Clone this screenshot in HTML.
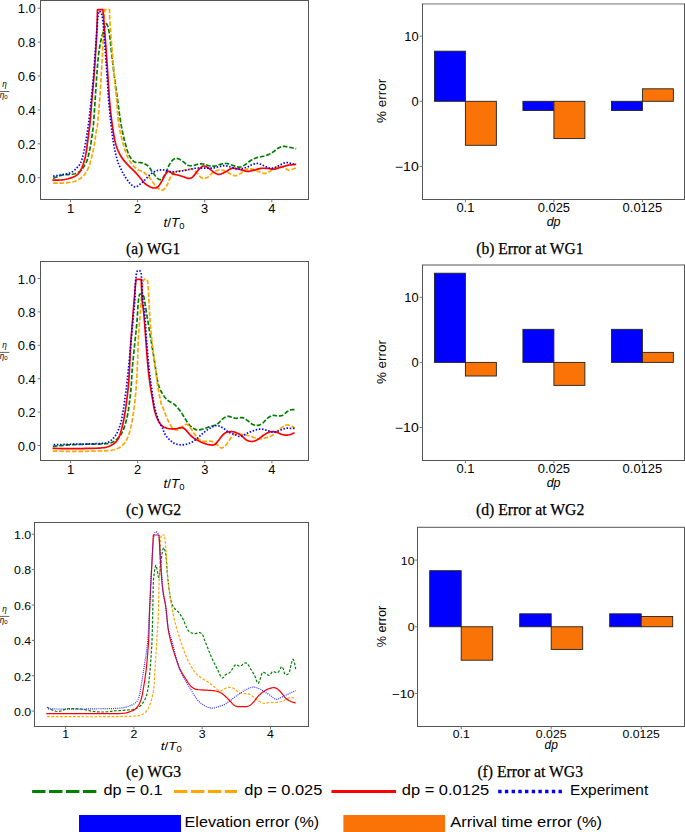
<!DOCTYPE html>
<html><head><meta charset="utf-8"><style>
html,body{margin:0;padding:0;background:#fff;}
svg{display:block;}
</style></head><body>
<svg width="685" height="832" viewBox="0 0 685 832">
<rect width="685" height="832" fill="#fff"/>
<clipPath id="a"><rect x="40.5" y="0.5" width="268.0" height="199.0"/></clipPath>
<g clip-path="url(#a)" fill="none" stroke-linejoin="round">
<path d="M53.10,178.40 L54.02,178.03 L55.27,177.50 L56.77,176.88 L58.43,176.24 L60.16,175.65 L61.90,175.20 L63.75,174.90 L65.80,174.69 L67.94,174.54 L70.03,174.40 L71.96,174.23 L73.60,174.00 L74.92,173.72 L76.02,173.45 L76.96,173.14 L77.79,172.79 L78.58,172.35 L79.40,171.80 L80.22,171.14 L81.00,170.40 L81.74,169.57 L82.44,168.67 L83.13,167.71 L83.80,166.70 L84.45,165.68 L85.08,164.64 L85.69,163.55 L86.27,162.34 L86.84,160.98 L87.40,159.40 L87.94,157.57 L88.47,155.52 L88.99,153.31 L89.48,150.99 L89.95,148.64 L90.40,146.30 L90.82,143.92 L91.23,141.44 L91.61,138.91 L91.97,136.41 L92.30,133.98 L92.60,131.70 L92.85,129.79 L93.04,128.26 L93.21,126.81 L93.38,125.15 L93.57,122.98 L93.80,120.00 L94.08,116.06 L94.40,111.36 L94.74,106.14 L95.09,100.68 L95.45,95.21 L95.80,90.00 L96.15,84.84 L96.51,79.50 L96.88,74.16 L97.25,69.00 L97.63,64.22 L98.00,60.00 L98.38,56.38 L98.76,53.22 L99.15,50.44 L99.54,47.94 L99.92,45.66 L100.30,43.50 L100.67,41.55 L101.04,39.89 L101.40,38.44 L101.76,37.11 L102.13,35.83 L102.50,34.50 L102.88,33.11 L103.27,31.72 L103.67,30.38 L104.06,29.11 L104.44,27.97 L104.80,27.00 L105.13,26.10 L105.44,25.22 L105.73,24.47 L106.03,23.94 L106.35,23.75 L106.70,24.00 L107.10,24.68 L107.53,25.72 L107.98,27.09 L108.44,28.77 L108.88,30.75 L109.30,33.00 L109.68,35.62 L110.04,38.64 L110.39,41.96 L110.74,45.47 L111.11,49.05 L111.50,52.60 L111.93,56.23 L112.38,60.06 L112.84,63.96 L113.31,67.83 L113.77,71.55 L114.20,75.00 L114.62,78.25 L115.04,81.40 L115.45,84.40 L115.84,87.20 L116.19,89.75 L116.50,92.00 L116.74,93.79 L116.93,95.13 L117.08,96.22 L117.23,97.26 L117.39,98.45 L117.60,100.00 L117.86,101.95 L118.15,104.16 L118.46,106.52 L118.77,108.93 L119.09,111.29 L119.40,113.50 L119.70,115.59 L120.00,117.63 L120.30,119.63 L120.60,121.57 L120.90,123.43 L121.20,125.20 L121.50,126.86 L121.79,128.40 L122.08,129.87 L122.37,131.30 L122.68,132.73 L123.00,134.20 L123.34,135.70 L123.69,137.20 L124.04,138.69 L124.41,140.19 L124.80,141.69 L125.20,143.20 L125.62,144.74 L126.04,146.33 L126.49,147.92 L126.94,149.47 L127.42,150.94 L127.90,152.30 L128.40,153.54 L128.90,154.71 L129.42,155.79 L129.96,156.80 L130.51,157.74 L131.10,158.60 L131.70,159.39 L132.32,160.12 L132.96,160.77 L133.63,161.34 L134.34,161.82 L135.10,162.20 L135.92,162.44 L136.80,162.52 L137.71,162.51 L138.65,162.48 L139.58,162.49 L140.50,162.60 L141.42,162.80 L142.37,163.04 L143.31,163.33 L144.23,163.64 L145.10,164.00 L145.90,164.40 L146.62,164.84 L147.27,165.34 L147.88,165.87 L148.44,166.43 L148.98,167.01 L149.50,167.60 L149.96,168.18 L150.34,168.75 L150.70,169.34 L151.08,169.97 L151.53,170.69 L152.10,171.50 L152.83,172.51 L153.69,173.70 L154.61,174.96 L155.56,176.19 L156.47,177.28 L157.30,178.10 L158.04,178.70 L158.73,179.17 L159.38,179.49 L160.02,179.64 L160.65,179.62 L161.30,179.40 L161.95,178.96 L162.60,178.30 L163.25,177.46 L163.90,176.47 L164.55,175.37 L165.20,174.20 L165.86,172.85 L166.53,171.29 L167.20,169.61 L167.87,167.93 L168.54,166.35 L169.20,165.00 L169.86,163.84 L170.51,162.80 L171.16,161.86 L171.80,161.03 L172.45,160.31 L173.10,159.70 L173.73,159.21 L174.35,158.83 L174.96,158.56 L175.60,158.40 L176.27,158.34 L177.00,158.40 L177.80,158.59 L178.66,158.92 L179.56,159.36 L180.48,159.87 L181.40,160.43 L182.30,161.00 L183.18,161.65 L184.07,162.42 L184.96,163.24 L185.84,164.02 L186.72,164.70 L187.60,165.20 L188.46,165.51 L189.29,165.69 L190.12,165.77 L190.97,165.76 L191.85,165.70 L192.80,165.60 L193.84,165.41 L194.95,165.11 L196.10,164.75 L197.25,164.39 L198.36,164.09 L199.40,163.90 L200.35,163.83 L201.23,163.83 L202.08,163.89 L202.91,163.99 L203.74,164.13 L204.60,164.30 L205.48,164.53 L206.36,164.83 L207.25,165.18 L208.14,165.51 L209.02,165.80 L209.90,166.00 L210.77,166.12 L211.64,166.19 L212.50,166.21 L213.36,166.19 L214.23,166.12 L215.10,166.00 L215.97,165.80 L216.83,165.53 L217.69,165.20 L218.56,164.86 L219.46,164.55 L220.40,164.30 L221.38,164.08 L222.39,163.86 L223.43,163.67 L224.48,163.53 L225.54,163.46 L226.60,163.50 L227.66,163.68 L228.74,163.97 L229.82,164.35 L230.91,164.76 L232.01,165.16 L233.10,165.50 L234.21,165.83 L235.34,166.21 L236.47,166.57 L237.59,166.87 L238.67,167.06 L239.70,167.10 L240.64,166.97 L241.52,166.71 L242.36,166.35 L243.19,165.90 L244.06,165.37 L245.00,164.80 L246.01,164.12 L247.07,163.31 L248.17,162.42 L249.28,161.54 L250.40,160.71 L251.50,160.00 L252.58,159.42 L253.64,158.91 L254.71,158.46 L255.80,158.05 L256.92,157.67 L258.10,157.30 L259.36,156.98 L260.69,156.72 L262.05,156.49 L263.41,156.25 L264.74,155.96 L266.00,155.60 L267.19,155.15 L268.35,154.64 L269.47,154.09 L270.55,153.50 L271.60,152.90 L272.60,152.30 L273.55,151.66 L274.43,150.97 L275.28,150.27 L276.11,149.58 L276.94,148.95 L277.80,148.40 L278.66,147.92 L279.51,147.49 L280.37,147.10 L281.24,146.78 L282.15,146.54 L283.10,146.40 L284.11,146.38 L285.17,146.47 L286.27,146.64 L287.38,146.86 L288.50,147.09 L289.60,147.30 L290.77,147.52 L292.04,147.78 L293.31,148.06 L294.49,148.32 L295.48,148.54 L296.20,148.70" stroke="#008000" stroke-width="1.7" stroke-dasharray="4.6 1.8"/>
<path d="M53.10,183.10 L54.04,183.11 L55.33,183.14 L56.86,183.17 L58.54,183.18 L60.25,183.16 L61.90,183.10 L63.57,182.99 L65.36,182.85 L67.18,182.68 L68.97,182.48 L70.63,182.25 L72.10,182.00 L73.33,181.73 L74.39,181.46 L75.33,181.16 L76.20,180.81 L77.07,180.39 L78.00,179.90 L78.99,179.33 L79.99,178.71 L80.99,178.03 L81.97,177.27 L82.92,176.43 L83.80,175.50 L84.63,174.47 L85.43,173.34 L86.18,172.12 L86.90,170.85 L87.57,169.54 L88.20,168.20 L88.77,166.87 L89.28,165.54 L89.74,164.16 L90.19,162.71 L90.63,161.13 L91.10,159.40 L91.59,157.48 L92.09,155.41 L92.59,153.21 L93.09,150.94 L93.56,148.62 L94.00,146.30 L94.41,143.90 L94.81,141.36 L95.18,138.79 L95.54,136.26 L95.88,133.87 L96.20,131.70 L96.49,130.06 L96.74,128.93 L96.98,127.94 L97.22,126.70 L97.49,124.85 L97.80,122.00 L98.17,118.02 L98.58,113.19 L99.01,107.73 L99.46,101.89 L99.89,95.90 L100.30,90.00 L100.69,83.99 L101.08,77.66 L101.46,71.18 L101.83,64.73 L102.18,58.47 L102.50,52.60 L102.80,46.96 L103.08,41.39 L103.34,36.02 L103.58,30.99 L103.80,26.44 L104.00,22.50 L104.18,19.21 L104.35,16.45 L104.49,14.17 L104.62,12.31 L104.72,10.80 L104.80,9.60 L105.37,9.60 L106.19,9.60 L107.15,9.60 L108.11,9.60 L108.93,9.60 L109.50,9.60 L109.53,10.80 L109.56,12.31 L109.61,14.17 L109.68,16.45 L109.81,19.21 L110.00,22.50 L110.28,26.55 L110.63,31.36 L111.04,36.64 L111.47,42.13 L111.90,47.54 L112.30,52.60 L112.69,57.41 L113.07,62.21 L113.46,66.93 L113.85,71.51 L114.23,75.89 L114.60,80.00 L114.98,83.84 L115.36,87.46 L115.74,90.87 L116.10,94.09 L116.42,97.13 L116.70,100.00 L116.91,102.65 L117.07,105.05 L117.20,107.27 L117.31,109.37 L117.44,111.43 L117.60,113.50 L117.79,115.59 L117.99,117.63 L118.19,119.63 L118.41,121.57 L118.65,123.43 L118.90,125.20 L119.17,126.86 L119.44,128.40 L119.74,129.87 L120.04,131.30 L120.37,132.73 L120.70,134.20 L121.05,135.70 L121.41,137.20 L121.79,138.69 L122.19,140.19 L122.59,141.69 L123.00,143.20 L123.42,144.73 L123.86,146.30 L124.30,147.86 L124.76,149.40 L125.22,150.89 L125.70,152.30 L126.18,153.62 L126.65,154.87 L127.14,156.07 L127.65,157.24 L128.20,158.37 L128.80,159.50 L129.47,160.63 L130.20,161.77 L130.96,162.88 L131.75,163.93 L132.53,164.92 L133.30,165.80 L134.04,166.57 L134.77,167.23 L135.49,167.83 L136.23,168.37 L137.00,168.88 L137.80,169.40 L138.67,169.90 L139.60,170.36 L140.56,170.79 L141.50,171.22 L142.39,171.65 L143.20,172.10 L143.90,172.56 L144.53,173.01 L145.11,173.47 L145.66,173.94 L146.22,174.45 L146.80,175.00 L147.41,175.58 L148.01,176.19 L148.61,176.82 L149.23,177.50 L149.85,178.22 L150.50,179.00 L151.17,179.86 L151.85,180.81 L152.54,181.81 L153.25,182.82 L153.97,183.79 L154.70,184.70 L155.45,185.58 L156.23,186.46 L157.02,187.32 L157.80,188.10 L158.57,188.78 L159.30,189.30 L159.99,189.70 L160.65,190.01 L161.29,190.21 L161.92,190.28 L162.55,190.18 L163.20,189.90 L163.87,189.39 L164.55,188.67 L165.24,187.79 L165.91,186.80 L166.57,185.76 L167.20,184.70 L167.78,183.58 L168.33,182.34 L168.86,181.05 L169.38,179.76 L169.92,178.52 L170.50,177.40 L171.10,176.37 L171.70,175.37 L172.32,174.43 L172.97,173.57 L173.66,172.82 L174.40,172.20 L175.19,171.75 L176.02,171.46 L176.89,171.28 L177.79,171.16 L178.73,171.05 L179.70,170.90 L180.71,170.73 L181.77,170.57 L182.87,170.42 L183.98,170.28 L185.10,170.14 L186.20,170.00 L187.32,169.81 L188.49,169.56 L189.66,169.32 L190.79,169.14 L191.85,169.08 L192.80,169.20 L193.60,169.53 L194.28,170.01 L194.89,170.62 L195.47,171.31 L196.09,172.05 L196.80,172.80 L197.60,173.65 L198.44,174.66 L199.32,175.72 L200.21,176.71 L201.11,177.54 L202.00,178.10 L202.88,178.38 L203.76,178.46 L204.65,178.37 L205.54,178.14 L206.42,177.81 L207.30,177.40 L208.17,176.84 L209.04,176.08 L209.90,175.22 L210.76,174.33 L211.63,173.50 L212.50,172.80 L213.39,172.22 L214.30,171.70 L215.21,171.22 L216.11,170.81 L216.98,170.47 L217.80,170.20 L218.56,170.00 L219.27,169.88 L219.94,169.82 L220.61,169.83 L221.29,169.89 L222.00,170.00 L222.71,170.16 L223.38,170.37 L224.07,170.64 L224.81,170.97 L225.64,171.36 L226.60,171.80 L227.76,172.39 L229.09,173.15 L230.51,173.97 L231.94,174.74 L233.30,175.35 L234.50,175.70 L235.51,175.77 L236.38,175.66 L237.18,175.38 L237.96,174.99 L238.78,174.52 L239.70,174.00 L240.72,173.35 L241.80,172.52 L242.92,171.61 L244.06,170.71 L245.19,169.95 L246.30,169.40 L247.40,169.08 L248.52,168.92 L249.63,168.87 L250.73,168.93 L251.79,169.04 L252.80,169.20 L253.74,169.43 L254.61,169.76 L255.44,170.16 L256.28,170.59 L257.16,171.02 L258.10,171.40 L259.14,171.79 L260.26,172.23 L261.41,172.66 L262.56,173.04 L263.67,173.30 L264.70,173.40 L265.65,173.32 L266.53,173.09 L267.38,172.75 L268.21,172.33 L269.04,171.87 L269.90,171.40 L270.78,170.87 L271.66,170.23 L272.55,169.56 L273.44,168.89 L274.32,168.29 L275.20,167.80 L276.07,167.41 L276.94,167.06 L277.80,166.78 L278.66,166.58 L279.53,166.48 L280.40,166.50 L281.29,166.69 L282.21,167.04 L283.13,167.49 L284.03,167.97 L284.90,168.43 L285.70,168.80 L286.40,169.12 L287.00,169.44 L287.57,169.74 L288.15,169.97 L288.81,170.10 L289.60,170.10 L290.62,169.90 L291.84,169.51 L293.14,169.03 L294.39,168.53 L295.45,168.09 L296.20,167.80" stroke="#ffa500" stroke-width="1.7" stroke-dasharray="4.6 1.8"/>
<path d="M52.40,180.10 L53.46,180.09 L54.94,180.10 L56.69,180.09 L58.54,180.07 L60.33,180.01 L61.90,179.90 L63.26,179.73 L64.55,179.52 L65.78,179.28 L66.96,179.00 L68.10,178.71 L69.20,178.40 L70.28,178.08 L71.32,177.74 L72.33,177.39 L73.28,177.01 L74.17,176.62 L75.00,176.20 L75.75,175.78 L76.42,175.37 L77.03,174.93 L77.60,174.46 L78.15,173.92 L78.70,173.30 L79.24,172.59 L79.75,171.79 L80.24,170.94 L80.71,170.04 L81.17,169.12 L81.60,168.20 L82.01,167.30 L82.39,166.40 L82.74,165.47 L83.09,164.50 L83.44,163.45 L83.80,162.30 L84.18,161.03 L84.56,159.66 L84.95,158.22 L85.33,156.71 L85.68,155.17 L86.00,153.60 L86.28,152.00 L86.52,150.37 L86.74,148.69 L86.96,146.97 L87.17,145.20 L87.40,143.40 L87.65,141.53 L87.90,139.57 L88.16,137.58 L88.41,135.58 L88.66,133.61 L88.90,131.70 L89.12,130.02 L89.32,128.59 L89.52,127.18 L89.72,125.59 L89.95,123.60 L90.20,121.00 L90.49,117.65 L90.81,113.69 L91.15,109.33 L91.50,104.79 L91.85,100.27 L92.20,96.00 L92.54,92.06 L92.89,88.31 L93.24,84.59 L93.59,80.74 L93.94,76.60 L94.30,72.00 L94.67,66.78 L95.07,61.03 L95.47,54.99 L95.85,48.90 L96.20,42.99 L96.50,37.50 L96.75,32.15 L96.96,26.68 L97.14,21.39 L97.29,16.59 L97.41,12.56 L97.50,9.60 L98.14,9.60 L99.07,9.60 L100.15,9.60 L101.23,9.60 L102.16,9.60 L102.80,9.60 L102.92,10.80 L103.07,12.31 L103.26,14.17 L103.47,16.45 L103.72,19.21 L104.00,22.50 L104.32,26.49 L104.69,31.17 L105.09,36.33 L105.50,41.76 L105.91,47.25 L106.30,52.60 L106.69,58.07 L107.09,63.87 L107.48,69.74 L107.86,75.40 L108.20,80.58 L108.50,85.00 L108.73,88.52 L108.91,91.34 L109.06,93.68 L109.19,95.76 L109.33,97.79 L109.50,100.00 L109.69,102.34 L109.89,104.61 L110.10,106.84 L110.32,109.06 L110.55,111.27 L110.80,113.50 L111.07,115.75 L111.34,118.00 L111.64,120.25 L111.94,122.50 L112.27,124.75 L112.60,127.00 L112.95,129.29 L113.30,131.63 L113.67,133.97 L114.06,136.26 L114.46,138.45 L114.90,140.50 L115.35,142.39 L115.82,144.16 L116.31,145.84 L116.83,147.44 L117.39,148.98 L118.00,150.50 L118.65,151.97 L119.33,153.37 L120.05,154.72 L120.81,156.04 L121.63,157.32 L122.50,158.60 L123.46,159.87 L124.50,161.13 L125.59,162.37 L126.70,163.57 L127.78,164.71 L128.80,165.80 L129.77,166.82 L130.73,167.79 L131.67,168.71 L132.57,169.59 L133.41,170.41 L134.20,171.20 L134.90,171.92 L135.53,172.56 L136.11,173.16 L136.66,173.74 L137.22,174.34 L137.80,175.00 L138.41,175.71 L139.01,176.45 L139.62,177.21 L140.24,177.97 L140.86,178.74 L141.50,179.50 L142.12,180.26 L142.71,181.03 L143.32,181.81 L143.96,182.57 L144.68,183.30 L145.50,184.00 L146.47,184.70 L147.56,185.41 L148.72,186.10 L149.91,186.72 L151.05,187.24 L152.10,187.60 L153.06,187.83 L153.98,187.97 L154.86,188.01 L155.71,187.91 L156.52,187.68 L157.30,187.30 L158.04,186.73 L158.73,185.97 L159.38,185.08 L160.02,184.09 L160.65,183.05 L161.30,182.00 L161.96,180.87 L162.63,179.60 L163.29,178.29 L163.95,177.00 L164.59,175.81 L165.20,174.80 L165.77,173.93 L166.30,173.13 L166.81,172.44 L167.33,171.88 L167.88,171.49 L168.50,171.30 L169.18,171.40 L169.91,171.76 L170.67,172.30 L171.47,172.90 L172.28,173.47 L173.10,173.90 L173.94,174.19 L174.82,174.42 L175.71,174.61 L176.61,174.79 L177.51,174.98 L178.40,175.20 L179.27,175.45 L180.14,175.71 L181.00,175.98 L181.86,176.26 L182.73,176.53 L183.60,176.80 L184.49,177.10 L185.41,177.45 L186.33,177.80 L187.23,178.10 L188.10,178.32 L188.90,178.40 L189.61,178.38 L190.25,178.29 L190.85,178.11 L191.45,177.82 L192.09,177.39 L192.80,176.80 L193.60,175.96 L194.47,174.88 L195.37,173.66 L196.29,172.41 L197.21,171.22 L198.10,170.20 L198.97,169.29 L199.84,168.39 L200.70,167.55 L201.56,166.84 L202.43,166.30 L203.30,166.00 L204.18,165.98 L205.06,166.19 L205.95,166.59 L206.84,167.10 L207.72,167.66 L208.60,168.20 L209.47,168.78 L210.34,169.47 L211.20,170.20 L212.06,170.93 L212.93,171.62 L213.80,172.20 L214.67,172.72 L215.53,173.24 L216.39,173.70 L217.26,174.07 L218.16,174.32 L219.10,174.40 L220.08,174.28 L221.09,173.99 L222.12,173.56 L223.18,173.06 L224.24,172.52 L225.30,172.00 L226.38,171.42 L227.49,170.74 L228.61,170.02 L229.71,169.35 L230.78,168.78 L231.80,168.40 L232.75,168.22 L233.66,168.20 L234.53,168.29 L235.39,168.45 L236.24,168.63 L237.10,168.80 L237.97,168.96 L238.84,169.17 L239.70,169.39 L240.56,169.63 L241.43,169.87 L242.30,170.10 L243.16,170.35 L244.01,170.63 L244.86,170.91 L245.73,171.16 L246.64,171.33 L247.60,171.40 L248.63,171.34 L249.71,171.17 L250.82,170.94 L251.96,170.66 L253.09,170.37 L254.20,170.10 L255.29,169.82 L256.37,169.50 L257.45,169.17 L258.53,168.86 L259.61,168.59 L260.70,168.40 L261.79,168.29 L262.89,168.24 L263.99,168.24 L265.10,168.28 L266.20,168.33 L267.30,168.40 L268.40,168.52 L269.50,168.70 L270.61,168.91 L271.71,169.10 L272.81,169.21 L273.90,169.20 L274.97,169.06 L276.02,168.81 L277.07,168.49 L278.13,168.13 L279.24,167.75 L280.40,167.40 L281.64,167.04 L282.93,166.64 L284.26,166.24 L285.61,165.84 L286.97,165.49 L288.30,165.20 L289.71,164.98 L291.23,164.80 L292.74,164.66 L294.15,164.56 L295.34,164.47 L296.20,164.40" stroke="#ff0000" stroke-width="1.7"/>
<path d="M53.10,176.20 L54.06,176.04 L55.38,175.83 L56.95,175.58 L58.64,175.30 L60.33,175.00 L61.90,174.70 L63.40,174.41 L64.94,174.13 L66.49,173.83 L67.99,173.49 L69.41,173.09 L70.70,172.60 L71.86,172.02 L72.91,171.36 L73.88,170.64 L74.78,169.86 L75.65,169.05 L76.50,168.20 L77.33,167.35 L78.13,166.50 L78.88,165.61 L79.60,164.64 L80.27,163.55 L80.90,162.30 L81.48,160.87 L82.00,159.27 L82.49,157.56 L82.94,155.77 L83.37,153.94 L83.80,152.10 L84.21,150.27 L84.59,148.42 L84.94,146.53 L85.29,144.57 L85.64,142.54 L86.00,140.40 L86.38,138.07 L86.77,135.53 L87.17,132.92 L87.55,130.34 L87.90,127.93 L88.20,125.80 L88.42,124.28 L88.56,123.33 L88.67,122.55 L88.80,121.51 L88.99,119.80 L89.30,117.00 L89.75,112.97 L90.31,108.01 L90.93,102.39 L91.58,96.34 L92.22,90.13 L92.80,84.00 L93.34,77.73 L93.87,71.06 L94.38,64.22 L94.88,57.44 L95.35,50.96 L95.80,45.00 L96.22,39.37 L96.62,33.86 L96.99,28.64 L97.35,23.89 L97.68,19.78 L98.00,16.50 L98.27,14.15 L98.50,12.60 L98.70,11.70 L98.91,11.29 L99.17,11.21 L99.50,11.30 L99.92,11.49 L100.41,11.90 L100.95,12.64 L101.50,13.82 L102.02,15.57 L102.50,18.00 L102.92,21.19 L103.30,25.05 L103.66,29.48 L104.02,34.36 L104.40,39.57 L104.80,45.00 L105.26,51.07 L105.76,57.96 L106.28,65.19 L106.78,72.26 L107.23,78.69 L107.60,84.00 L107.87,88.03 L108.06,91.13 L108.19,93.59 L108.31,95.70 L108.44,97.74 L108.60,100.00 L108.80,102.39 L109.01,104.69 L109.22,106.91 L109.45,109.09 L109.67,111.28 L109.90,113.50 L110.12,115.75 L110.34,118.00 L110.57,120.25 L110.80,122.50 L111.04,124.75 L111.30,127.00 L111.57,129.27 L111.86,131.56 L112.15,133.86 L112.46,136.13 L112.77,138.35 L113.10,140.50 L113.44,142.59 L113.79,144.63 L114.14,146.62 L114.51,148.57 L114.90,150.46 L115.30,152.30 L115.72,154.10 L116.16,155.87 L116.62,157.59 L117.08,159.24 L117.54,160.78 L118.00,162.20 L118.45,163.47 L118.90,164.60 L119.35,165.63 L119.80,166.60 L120.25,167.54 L120.70,168.50 L121.14,169.45 L121.57,170.36 L121.99,171.24 L122.43,172.12 L122.90,173.00 L123.40,173.90 L123.95,174.83 L124.53,175.79 L125.13,176.74 L125.75,177.69 L126.38,178.62 L127.00,179.50 L127.61,180.36 L128.23,181.20 L128.84,182.02 L129.47,182.81 L130.12,183.54 L130.80,184.20 L131.50,184.84 L132.23,185.49 L132.98,186.08 L133.74,186.57 L134.51,186.89 L135.30,187.00 L136.10,186.85 L136.92,186.49 L137.76,185.96 L138.60,185.33 L139.45,184.66 L140.30,184.00 L141.15,183.34 L142.01,182.62 L142.88,181.86 L143.75,181.06 L144.63,180.24 L145.50,179.40 L146.36,178.51 L147.21,177.56 L148.07,176.57 L148.94,175.61 L149.85,174.71 L150.80,173.90 L151.81,173.18 L152.87,172.50 L153.97,171.89 L155.08,171.34 L156.20,170.87 L157.30,170.50 L158.41,170.23 L159.54,170.04 L160.68,169.94 L161.79,169.91 L162.87,169.93 L163.90,170.00 L164.86,170.15 L165.77,170.40 L166.64,170.70 L167.49,171.01 L168.34,171.30 L169.20,171.50 L170.04,171.63 L170.84,171.73 L171.64,171.80 L172.47,171.83 L173.38,171.83 L174.40,171.80 L175.56,171.73 L176.83,171.62 L178.18,171.48 L179.57,171.30 L180.95,171.11 L182.30,170.90 L183.62,170.66 L184.93,170.37 L186.25,170.07 L187.57,169.76 L188.88,169.46 L190.20,169.20 L191.52,168.95 L192.83,168.71 L194.15,168.48 L195.47,168.28 L196.78,168.11 L198.10,168.00 L199.42,167.96 L200.74,167.98 L202.06,168.04 L203.37,168.12 L204.69,168.18 L206.00,168.20 L207.32,168.19 L208.65,168.19 L209.98,168.16 L211.29,168.11 L212.57,168.03 L213.80,167.90 L214.99,167.70 L216.15,167.43 L217.28,167.12 L218.37,166.81 L219.41,166.52 L220.40,166.30 L221.30,166.12 L222.10,165.94 L222.86,165.79 L223.61,165.69 L224.41,165.66 L225.30,165.70 L226.29,165.85 L227.34,166.09 L228.44,166.40 L229.57,166.74 L230.69,167.08 L231.80,167.40 L232.88,167.74 L233.94,168.13 L235.01,168.52 L236.10,168.86 L237.22,169.11 L238.40,169.20 L239.66,169.12 L240.99,168.91 L242.36,168.60 L243.72,168.22 L245.05,167.81 L246.30,167.40 L247.48,166.95 L248.61,166.41 L249.71,165.84 L250.77,165.29 L251.80,164.79 L252.80,164.40 L253.75,164.09 L254.66,163.84 L255.53,163.64 L256.38,163.51 L257.23,163.46 L258.10,163.50 L258.97,163.66 L259.82,163.93 L260.68,164.28 L261.54,164.68 L262.45,165.10 L263.40,165.50 L264.43,165.94 L265.52,166.44 L266.65,166.97 L267.78,167.46 L268.87,167.85 L269.90,168.10 L270.85,168.20 L271.76,168.18 L272.63,168.07 L273.49,167.90 L274.34,167.66 L275.20,167.40 L276.07,167.07 L276.94,166.66 L277.80,166.19 L278.66,165.71 L279.53,165.23 L280.40,164.80 L281.27,164.37 L282.14,163.92 L283.01,163.48 L283.89,163.09 L284.78,162.78 L285.70,162.60 L286.67,162.57 L287.70,162.66 L288.74,162.83 L289.76,163.06 L290.73,163.29 L291.60,163.50 L292.41,163.71 L293.19,163.95 L293.92,164.21 L294.56,164.45 L295.10,164.65 L295.50,164.80" stroke="#0000ff" stroke-width="1.7" stroke-dasharray="1.5 1.7"/>
</g>
<rect x="40.50" y="0.50" width="268.00" height="199.00" fill="none" stroke="#545454" stroke-width="1"/>
<line x1="37.70" y1="177.70" x2="40.50" y2="177.70" stroke="#777777" stroke-width="1"/>
<text x="35.80" y="182.80" font-family="'Liberation Sans', sans-serif" font-size="12" font-style="normal" text-anchor="end" fill="#000" textLength="17.97" lengthAdjust="spacingAndGlyphs">0.0</text>
<line x1="37.70" y1="143.80" x2="40.50" y2="143.80" stroke="#777777" stroke-width="1"/>
<text x="35.80" y="148.90" font-family="'Liberation Sans', sans-serif" font-size="12" font-style="normal" text-anchor="end" fill="#000" textLength="17.97" lengthAdjust="spacingAndGlyphs">0.2</text>
<line x1="37.70" y1="109.90" x2="40.50" y2="109.90" stroke="#777777" stroke-width="1"/>
<text x="35.80" y="115.00" font-family="'Liberation Sans', sans-serif" font-size="12" font-style="normal" text-anchor="end" fill="#000" textLength="17.97" lengthAdjust="spacingAndGlyphs">0.4</text>
<line x1="37.70" y1="76.00" x2="40.50" y2="76.00" stroke="#777777" stroke-width="1"/>
<text x="35.80" y="81.10" font-family="'Liberation Sans', sans-serif" font-size="12" font-style="normal" text-anchor="end" fill="#000" textLength="17.97" lengthAdjust="spacingAndGlyphs">0.6</text>
<line x1="37.70" y1="42.10" x2="40.50" y2="42.10" stroke="#777777" stroke-width="1"/>
<text x="35.80" y="47.20" font-family="'Liberation Sans', sans-serif" font-size="12" font-style="normal" text-anchor="end" fill="#000" textLength="17.97" lengthAdjust="spacingAndGlyphs">0.8</text>
<line x1="37.70" y1="8.20" x2="40.50" y2="8.20" stroke="#777777" stroke-width="1"/>
<text x="35.80" y="13.30" font-family="'Liberation Sans', sans-serif" font-size="12" font-style="normal" text-anchor="end" fill="#000" textLength="17.97" lengthAdjust="spacingAndGlyphs">1.0</text>
<line x1="70.50" y1="199.50" x2="70.50" y2="202.30" stroke="#777777" stroke-width="1"/>
<text x="70.50" y="212.80" font-family="'Liberation Sans', sans-serif" font-size="12" font-style="normal" text-anchor="middle" fill="#000" textLength="7.19" lengthAdjust="spacingAndGlyphs">1</text>
<line x1="137.60" y1="199.50" x2="137.60" y2="202.30" stroke="#777777" stroke-width="1"/>
<text x="137.60" y="212.80" font-family="'Liberation Sans', sans-serif" font-size="12" font-style="normal" text-anchor="middle" fill="#000" textLength="7.19" lengthAdjust="spacingAndGlyphs">2</text>
<line x1="204.70" y1="199.50" x2="204.70" y2="202.30" stroke="#777777" stroke-width="1"/>
<text x="204.70" y="212.80" font-family="'Liberation Sans', sans-serif" font-size="12" font-style="normal" text-anchor="middle" fill="#000" textLength="7.19" lengthAdjust="spacingAndGlyphs">3</text>
<line x1="271.80" y1="199.50" x2="271.80" y2="202.30" stroke="#777777" stroke-width="1"/>
<text x="271.80" y="212.80" font-family="'Liberation Sans', sans-serif" font-size="12" font-style="normal" text-anchor="middle" fill="#000" textLength="7.19" lengthAdjust="spacingAndGlyphs">4</text>
<text x="163.40" y="227.00" font-family="'Liberation Sans', sans-serif" font-size="12.5" textLength="21.0" lengthAdjust="spacingAndGlyphs"><tspan font-style="italic">t</tspan>/<tspan font-style="italic">T</tspan><tspan font-size="8.75" dy="1.88">0</tspan></text>
<text x="4.60" y="87.20" font-family="'Liberation Sans', sans-serif" font-size="8.2" font-style="italic" text-anchor="middle">η</text>
<line x1="-2.00" y1="91.50" x2="9.30" y2="91.50" stroke="#222" stroke-width="0.7"/>
<text x="3.60" y="98.10" font-family="'Liberation Sans', sans-serif" font-size="8.2" font-style="italic" text-anchor="middle">η<tspan font-size="6" font-style="normal" dy="1">0</tspan></text>
<text x="126.10" y="253.70" font-family="'Liberation Serif', serif" font-size="16" font-style="normal" text-anchor="start" fill="#000" textLength="54.10" lengthAdjust="spacingAndGlyphs" stroke="#000" stroke-width="0.25">(a) WG1</text>
<clipPath id="c"><rect x="40.5" y="261.5" width="268.0" height="199.0"/></clipPath>
<g clip-path="url(#c)" fill="none" stroke-linejoin="round">
<path d="M52.80,446.30 L54.94,446.11 L57.92,445.84 L61.44,445.53 L65.19,445.21 L68.85,444.92 L72.10,444.70 L74.97,444.55 L77.71,444.44 L80.36,444.37 L82.96,444.31 L85.56,444.26 L88.20,444.20 L90.96,444.15 L93.83,444.13 L96.70,444.12 L99.46,444.09 L101.99,444.02 L104.20,443.90 L106.03,443.75 L107.55,443.59 L108.85,443.39 L110.02,443.13 L111.14,442.77 L112.30,442.30 L113.48,441.71 L114.62,441.03 L115.71,440.25 L116.75,439.39 L117.75,438.43 L118.70,437.40 L119.60,436.32 L120.45,435.20 L121.25,433.99 L122.02,432.66 L122.76,431.14 L123.50,429.40 L124.23,427.39 L124.95,425.14 L125.65,422.71 L126.31,420.16 L126.94,417.57 L127.50,415.00 L128.00,412.39 L128.46,409.68 L128.86,406.92 L129.23,404.17 L129.58,401.48 L129.90,398.90 L130.20,396.48 L130.46,394.17 L130.69,391.92 L130.91,389.68 L131.11,387.39 L131.30,385.00 L131.46,382.59 L131.59,380.21 L131.69,377.79 L131.81,375.24 L131.97,372.47 L132.20,369.40 L132.50,365.95 L132.86,362.18 L133.26,358.19 L133.67,354.10 L134.09,350.00 L134.50,346.00 L134.91,342.05 L135.33,338.06 L135.76,334.07 L136.17,330.11 L136.56,326.24 L136.90,322.50 L137.19,318.75 L137.45,314.94 L137.68,311.22 L137.89,307.72 L138.10,304.60 L138.30,302.00 L138.50,299.98 L138.68,298.44 L138.85,297.27 L139.02,296.37 L139.20,295.65 L139.40,295.00 L139.61,294.48 L139.83,294.20 L140.06,294.08 L140.30,294.08 L140.55,294.14 L140.80,294.20 L141.07,294.29 L141.35,294.45 L141.64,294.67 L141.94,294.94 L142.22,295.22 L142.50,295.50 L142.75,295.65 L142.99,295.67 L143.21,295.70 L143.45,295.91 L143.71,296.46 L144.00,297.50 L144.33,299.10 L144.68,301.13 L145.05,303.51 L145.44,306.11 L145.86,308.84 L146.30,311.60 L146.76,314.39 L147.24,317.31 L147.75,320.36 L148.28,323.54 L148.83,326.85 L149.40,330.30 L150.02,334.02 L150.69,338.05 L151.39,342.21 L152.07,346.33 L152.72,350.25 L153.30,353.80 L153.80,356.94 L154.23,359.80 L154.63,362.46 L155.01,365.00 L155.39,367.48 L155.80,370.00 L156.21,372.58 L156.61,375.16 L157.01,377.69 L157.43,380.13 L157.89,382.42 L158.40,384.50 L158.96,386.36 L159.55,388.03 L160.18,389.54 L160.85,390.95 L161.55,392.29 L162.30,393.60 L163.09,394.88 L163.93,396.09 L164.81,397.24 L165.72,398.31 L166.65,399.30 L167.60,400.20 L168.58,400.97 L169.61,401.59 L170.66,402.13 L171.70,402.66 L172.73,403.22 L173.70,403.90 L174.62,404.66 L175.50,405.45 L176.35,406.29 L177.19,407.18 L178.04,408.15 L178.90,409.20 L179.78,410.37 L180.66,411.64 L181.55,412.99 L182.44,414.37 L183.32,415.75 L184.20,417.10 L185.06,418.45 L185.89,419.86 L186.72,421.26 L187.57,422.61 L188.45,423.87 L189.40,425.00 L190.42,426.02 L191.50,426.96 L192.61,427.82 L193.75,428.56 L194.88,429.16 L196.00,429.60 L197.10,429.84 L198.20,429.91 L199.31,429.83 L200.41,429.66 L201.51,429.43 L202.60,429.20 L203.67,428.93 L204.72,428.59 L205.77,428.19 L206.83,427.76 L207.94,427.32 L209.10,426.90 L210.37,426.51 L211.73,426.15 L213.12,425.78 L214.51,425.37 L215.82,424.89 L217.00,424.30 L218.03,423.55 L218.96,422.67 L219.82,421.71 L220.64,420.74 L221.45,419.85 L222.30,419.10 L223.18,418.46 L224.07,417.88 L224.95,417.37 L225.82,416.94 L226.68,416.61 L227.50,416.40 L228.29,416.34 L229.06,416.43 L229.81,416.62 L230.55,416.86 L231.28,417.10 L232.00,417.30 L232.69,417.48 L233.35,417.69 L233.99,417.90 L234.66,418.09 L235.39,418.23 L236.20,418.30 L237.13,418.24 L238.17,418.06 L239.26,417.84 L240.36,417.64 L241.42,417.53 L242.40,417.60 L243.29,417.85 L244.13,418.24 L244.93,418.72 L245.71,419.26 L246.49,419.83 L247.30,420.40 L248.13,421.01 L248.96,421.69 L249.79,422.40 L250.63,423.09 L251.47,423.71 L252.30,424.20 L253.13,424.59 L253.97,424.91 L254.81,425.16 L255.64,425.33 L256.47,425.41 L257.30,425.40 L258.12,425.30 L258.94,425.11 L259.75,424.83 L260.56,424.47 L261.38,424.03 L262.20,423.50 L263.03,422.84 L263.86,422.02 L264.69,421.13 L265.53,420.21 L266.37,419.35 L267.20,418.60 L268.03,417.94 L268.87,417.31 L269.71,416.73 L270.54,416.21 L271.37,415.80 L272.20,415.50 L273.02,415.36 L273.84,415.37 L274.65,415.48 L275.46,415.62 L276.28,415.75 L277.10,415.80 L277.93,415.82 L278.76,415.87 L279.60,415.90 L280.44,415.87 L281.27,415.75 L282.10,415.50 L282.94,415.06 L283.78,414.45 L284.63,413.75 L285.45,413.03 L286.25,412.35 L287.00,411.80 L287.70,411.36 L288.35,410.97 L288.98,410.64 L289.58,410.35 L290.19,410.10 L290.80,409.90 L291.47,409.75 L292.18,409.67 L292.89,409.63 L293.54,409.62 L294.10,409.61 L294.50,409.60" stroke="#008000" stroke-width="1.7" stroke-dasharray="4.6 1.8"/>
<path d="M52.80,451.10 L54.84,451.14 L57.63,451.20 L60.94,451.27 L64.60,451.33 L68.38,451.38 L72.10,451.40 L75.95,451.39 L80.13,451.36 L84.45,451.32 L88.70,451.26 L92.68,451.19 L96.20,451.10 L99.25,451.01 L101.99,450.93 L104.46,450.83 L106.70,450.70 L108.77,450.53 L110.70,450.30 L112.43,450.03 L113.91,449.74 L115.21,449.40 L116.39,449.00 L117.53,448.50 L118.70,447.90 L119.88,447.22 L121.01,446.48 L122.10,445.66 L123.14,444.71 L124.14,443.60 L125.10,442.30 L126.01,440.80 L126.88,439.13 L127.70,437.30 L128.48,435.33 L129.21,433.22 L129.90,431.00 L130.53,428.66 L131.11,426.20 L131.64,423.60 L132.14,420.87 L132.63,418.00 L133.10,415.00 L133.57,411.84 L134.02,408.51 L134.45,405.06 L134.86,401.49 L135.24,397.83 L135.60,394.10 L135.92,390.36 L136.21,386.60 L136.48,382.74 L136.73,378.74 L136.97,374.51 L137.20,370.00 L137.42,365.02 L137.61,359.60 L137.79,353.95 L137.97,348.31 L138.17,342.92 L138.40,338.00 L138.67,333.51 L138.99,329.27 L139.31,325.27 L139.64,321.51 L139.94,317.98 L140.20,314.70 L140.41,311.70 L140.59,309.01 L140.75,306.56 L140.90,304.28 L141.04,302.11 L141.20,300.00 L141.37,297.97 L141.54,296.07 L141.71,294.29 L141.87,292.60 L142.04,290.98 L142.20,289.40 L142.35,287.82 L142.50,286.24 L142.64,284.74 L142.79,283.36 L142.94,282.16 L143.10,281.20 L143.27,280.54 L143.45,280.14 L143.63,279.92 L143.82,279.81 L144.01,279.73 L144.20,279.60 L144.39,279.44 L144.58,279.31 L144.77,279.22 L144.97,279.15 L145.18,279.11 L145.40,279.10 L145.65,279.07 L145.92,279.02 L146.21,278.99 L146.49,279.05 L146.76,279.23 L147.00,279.60 L147.22,280.14 L147.43,280.82 L147.62,281.63 L147.80,282.57 L147.96,283.62 L148.10,284.80 L148.21,285.93 L148.27,286.99 L148.32,288.17 L148.37,289.67 L148.46,291.68 L148.60,294.40 L148.79,298.07 L149.03,302.57 L149.29,307.58 L149.57,312.79 L149.88,317.87 L150.20,322.50 L150.53,326.68 L150.89,330.68 L151.26,334.54 L151.65,338.34 L152.06,342.14 L152.50,346.00 L152.98,349.99 L153.51,354.07 L154.06,358.14 L154.61,362.12 L155.13,365.91 L155.60,369.40 L155.99,372.53 L156.33,375.36 L156.64,378.00 L156.95,380.55 L157.29,383.11 L157.70,385.80 L158.19,388.74 L158.76,391.86 L159.35,395.01 L159.94,397.99 L160.51,400.65 L161.00,402.80 L161.40,404.28 L161.72,405.18 L162.01,405.76 L162.30,406.24 L162.65,406.88 L163.10,407.90 L163.64,409.35 L164.25,411.05 L164.91,412.89 L165.61,414.80 L166.34,416.66 L167.10,418.40 L167.90,420.09 L168.74,421.81 L169.62,423.51 L170.51,425.09 L171.41,426.48 L172.30,427.60 L173.18,428.46 L174.06,429.13 L174.95,429.61 L175.84,429.90 L176.72,430.03 L177.60,430.00 L178.49,429.72 L179.39,429.16 L180.28,428.43 L181.16,427.63 L182.00,426.89 L182.80,426.30 L183.54,425.80 L184.23,425.29 L184.88,424.82 L185.52,424.47 L186.15,424.27 L186.80,424.30 L187.45,424.58 L188.10,425.09 L188.75,425.75 L189.40,426.53 L190.05,427.36 L190.70,428.20 L191.35,429.08 L191.98,430.05 L192.62,431.07 L193.27,432.13 L193.96,433.18 L194.70,434.20 L195.50,435.24 L196.34,436.34 L197.22,437.44 L198.11,438.48 L199.01,439.38 L199.90,440.10 L200.76,440.60 L201.61,440.92 L202.46,441.12 L203.33,441.23 L204.24,441.31 L205.20,441.40 L206.24,441.44 L207.36,441.37 L208.51,441.27 L209.66,441.20 L210.77,441.22 L211.80,441.40 L212.75,441.76 L213.66,442.26 L214.53,442.84 L215.36,443.48 L216.18,444.11 L217.00,444.70 L217.80,445.33 L218.58,446.04 L219.34,446.76 L220.09,447.39 L220.84,447.83 L221.60,448.00 L222.38,447.85 L223.18,447.44 L223.98,446.85 L224.76,446.15 L225.51,445.41 L226.20,444.70 L226.81,444.00 L227.36,443.26 L227.87,442.48 L228.38,441.66 L228.91,440.83 L229.50,440.00 L230.15,439.10 L230.85,438.10 L231.57,437.09 L232.30,436.14 L233.02,435.32 L233.70,434.70 L234.32,434.31 L234.88,434.11 L235.42,434.03 L236.00,434.04 L236.64,434.08 L237.40,434.10 L238.29,434.12 L239.28,434.19 L240.34,434.28 L241.44,434.40 L242.54,434.55 L243.60,434.70 L244.63,434.87 L245.67,435.05 L246.70,435.25 L247.73,435.47 L248.77,435.72 L249.80,436.00 L250.85,436.33 L251.91,436.72 L252.98,437.13 L254.02,437.54 L255.04,437.90 L256.00,438.20 L256.90,438.44 L257.76,438.64 L258.57,438.81 L259.38,438.93 L260.18,439.00 L261.00,439.00 L261.82,438.93 L262.62,438.80 L263.43,438.61 L264.24,438.37 L265.10,438.10 L266.00,437.80 L266.98,437.47 L268.03,437.11 L269.11,436.71 L270.19,436.27 L271.23,435.80 L272.20,435.30 L273.09,434.76 L273.93,434.18 L274.73,433.56 L275.51,432.92 L276.29,432.27 L277.10,431.60 L277.93,430.89 L278.76,430.14 L279.60,429.36 L280.44,428.61 L281.27,427.91 L282.10,427.30 L282.92,426.76 L283.74,426.25 L284.55,425.80 L285.36,425.43 L286.18,425.15 L287.00,425.00 L287.86,425.00 L288.75,425.14 L289.65,425.38 L290.51,425.68 L291.31,426.00 L292.00,426.30 L292.59,426.62 L293.11,426.99 L293.56,427.38 L293.94,427.76 L294.26,428.07 L294.50,428.30" stroke="#ffa500" stroke-width="1.7" stroke-dasharray="4.6 1.8"/>
<path d="M52.50,448.40 L54.67,448.44 L57.71,448.50 L61.29,448.57 L65.10,448.63 L68.81,448.68 L72.10,448.70 L75.02,448.69 L77.85,448.65 L80.58,448.60 L83.21,448.54 L85.75,448.47 L88.20,448.40 L90.58,448.34 L92.89,448.29 L95.10,448.23 L97.20,448.16 L99.18,448.05 L101.00,447.90 L102.64,447.72 L104.11,447.54 L105.45,447.32 L106.70,447.05 L107.90,446.72 L109.10,446.30 L110.29,445.80 L111.45,445.24 L112.56,444.61 L113.61,443.91 L114.59,443.14 L115.50,442.30 L116.31,441.42 L117.04,440.49 L117.70,439.50 L118.31,438.41 L118.91,437.18 L119.50,435.80 L120.09,434.22 L120.66,432.47 L121.20,430.59 L121.72,428.63 L122.22,426.61 L122.70,424.60 L123.15,422.62 L123.56,420.63 L123.95,418.61 L124.33,416.49 L124.71,414.24 L125.10,411.80 L125.51,409.14 L125.93,406.28 L126.35,403.28 L126.76,400.21 L127.15,397.13 L127.50,394.10 L127.81,391.24 L128.10,388.54 L128.36,385.82 L128.60,382.93 L128.85,379.71 L129.10,376.00 L129.35,371.70 L129.57,366.93 L129.80,361.83 L130.04,356.54 L130.30,351.21 L130.60,346.00 L130.96,340.72 L131.36,335.23 L131.79,329.71 L132.23,324.32 L132.64,319.26 L133.00,314.70 L133.32,310.70 L133.60,307.13 L133.86,303.87 L134.11,300.84 L134.35,297.92 L134.60,295.00 L134.86,291.97 L135.13,288.89 L135.40,285.92 L135.64,283.22 L135.85,280.96 L136.00,279.30 L136.63,279.30 L137.54,279.30 L138.60,279.30 L139.66,279.30 L140.57,279.30 L141.20,279.30 L141.30,281.62 L141.43,284.89 L141.59,288.73 L141.78,292.78 L141.98,296.66 L142.20,300.00 L142.43,302.61 L142.69,304.73 L142.96,306.69 L143.26,308.79 L143.57,311.36 L143.90,314.70 L144.27,319.09 L144.68,324.32 L145.11,330.02 L145.53,335.79 L145.94,341.25 L146.30,346.00 L146.61,350.02 L146.88,353.61 L147.12,356.89 L147.37,359.97 L147.62,362.97 L147.90,366.00 L148.20,369.03 L148.51,371.96 L148.84,374.81 L149.17,377.60 L149.53,380.36 L149.90,383.10 L150.30,385.83 L150.71,388.52 L151.15,391.18 L151.60,393.80 L152.05,396.37 L152.50,398.90 L152.93,401.39 L153.33,403.86 L153.74,406.29 L154.18,408.65 L154.69,410.93 L155.30,413.10 L156.01,415.22 L156.80,417.33 L157.66,419.34 L158.57,421.22 L159.52,422.89 L160.50,424.30 L161.50,425.41 L162.55,426.26 L163.63,426.91 L164.75,427.41 L165.91,427.82 L167.10,428.20 L168.36,428.52 L169.69,428.74 L171.06,428.87 L172.42,428.93 L173.75,428.94 L175.00,428.90 L176.19,428.76 L177.36,428.49 L178.49,428.17 L179.57,427.86 L180.58,427.65 L181.50,427.60 L182.30,427.70 L182.97,427.88 L183.58,428.15 L184.17,428.52 L184.79,429.00 L185.50,429.60 L186.30,430.38 L187.14,431.35 L188.02,432.43 L188.91,433.54 L189.81,434.59 L190.70,435.50 L191.56,436.27 L192.41,436.97 L193.26,437.61 L194.13,438.22 L195.04,438.81 L196.00,439.40 L197.03,440.00 L198.11,440.59 L199.22,441.17 L200.36,441.72 L201.49,442.23 L202.60,442.70 L203.70,443.13 L204.82,443.54 L205.93,443.91 L207.03,444.23 L208.09,444.50 L209.10,444.70 L210.07,444.86 L211.01,445.00 L211.91,445.07 L212.78,445.07 L213.61,444.95 L214.40,444.70 L215.11,444.29 L215.75,443.76 L216.35,443.11 L216.95,442.37 L217.59,441.56 L218.30,440.70 L219.10,439.71 L219.97,438.57 L220.87,437.35 L221.79,436.16 L222.71,435.07 L223.60,434.20 L224.46,433.53 L225.31,432.99 L226.15,432.57 L227.00,432.24 L227.88,431.99 L228.80,431.80 L229.76,431.67 L230.76,431.63 L231.79,431.66 L232.83,431.76 L233.87,431.94 L234.90,432.20 L235.94,432.55 L237.00,432.99 L238.07,433.50 L239.12,434.07 L240.13,434.68 L241.10,435.30 L242.00,435.99 L242.83,436.77 L243.64,437.58 L244.43,438.38 L245.25,439.10 L246.10,439.70 L247.00,440.19 L247.92,440.63 L248.86,440.99 L249.81,441.26 L250.76,441.44 L251.70,441.50 L252.63,441.44 L253.54,441.26 L254.46,440.99 L255.39,440.63 L256.33,440.19 L257.30,439.70 L258.30,439.10 L259.32,438.39 L260.36,437.59 L261.41,436.78 L262.46,436.00 L263.50,435.30 L264.53,434.65 L265.57,434.00 L266.60,433.38 L267.63,432.81 L268.67,432.35 L269.70,432.00 L270.73,431.78 L271.77,431.66 L272.80,431.64 L273.83,431.69 L274.87,431.82 L275.90,432.00 L276.93,432.30 L277.97,432.72 L279.00,433.22 L280.03,433.72 L281.07,434.17 L282.10,434.50 L283.13,434.73 L284.17,434.91 L285.20,435.04 L286.23,435.11 L287.27,435.10 L288.30,435.00 L289.41,434.76 L290.60,434.39 L291.79,433.93 L292.89,433.47 L293.83,433.07 L294.50,432.80" stroke="#ff0000" stroke-width="1.7"/>
<path d="M53.70,444.70 L55.73,444.64 L58.56,444.56 L61.89,444.47 L65.46,444.37 L68.95,444.28 L72.10,444.20 L74.92,444.14 L77.64,444.10 L80.30,444.07 L82.93,444.03 L85.55,443.98 L88.20,443.90 L90.98,443.81 L93.89,443.73 L96.80,443.63 L99.57,443.50 L102.08,443.33 L104.20,443.10 L105.84,442.84 L107.10,442.57 L108.10,442.26 L108.95,441.86 L109.78,441.36 L110.70,440.70 L111.70,439.89 L112.69,438.95 L113.66,437.90 L114.59,436.75 L115.47,435.51 L116.30,434.20 L117.08,432.80 L117.81,431.29 L118.50,429.69 L119.14,428.03 L119.74,426.33 L120.30,424.60 L120.79,422.88 L121.22,421.17 L121.60,419.41 L121.96,417.56 L122.32,415.57 L122.70,413.40 L123.10,411.04 L123.50,408.51 L123.90,405.86 L124.30,403.09 L124.70,400.23 L125.10,397.30 L125.49,394.42 L125.87,391.57 L126.26,388.64 L126.65,385.49 L127.06,381.99 L127.50,378.00 L127.98,373.34 L128.51,368.07 L129.05,362.46 L129.59,356.74 L130.12,351.17 L130.60,346.00 L131.05,341.17 L131.47,336.47 L131.88,331.91 L132.27,327.53 L132.64,323.35 L133.00,319.40 L133.35,315.67 L133.70,312.16 L134.03,308.84 L134.33,305.72 L134.59,302.77 L134.80,300.00 L134.93,297.41 L135.00,295.03 L135.02,292.82 L135.03,290.77 L135.04,288.87 L135.10,287.10 L135.19,285.49 L135.31,284.07 L135.43,282.79 L135.56,281.61 L135.68,280.50 L135.80,279.40 L135.90,278.33 L135.99,277.32 L136.07,276.37 L136.16,275.48 L136.27,274.66 L136.40,273.90 L136.55,273.19 L136.70,272.53 L136.87,271.93 L137.07,271.41 L137.31,271.00 L137.60,270.70 L137.98,270.53 L138.46,270.48 L138.97,270.53 L139.48,270.66 L139.94,270.85 L140.30,271.10 L140.56,271.39 L140.75,271.72 L140.89,272.12 L141.00,272.61 L141.09,273.20 L141.20,273.90 L141.31,274.75 L141.40,275.75 L141.47,276.85 L141.55,278.00 L141.62,279.17 L141.70,280.30 L141.78,281.34 L141.87,282.31 L141.96,283.29 L142.04,284.37 L142.12,285.61 L142.20,287.10 L142.25,288.88 L142.28,290.88 L142.30,293.06 L142.34,295.34 L142.44,297.68 L142.60,300.00 L142.85,302.15 L143.17,304.15 L143.53,306.20 L143.92,308.50 L144.32,311.27 L144.70,314.70 L145.07,319.04 L145.46,324.17 L145.84,329.77 L146.23,335.49 L146.62,341.01 L147.00,346.00 L147.37,350.47 L147.73,354.70 L148.08,358.73 L148.44,362.59 L148.81,366.33 L149.20,370.00 L149.61,373.56 L150.03,376.98 L150.47,380.28 L150.91,383.49 L151.36,386.62 L151.80,389.70 L152.23,392.75 L152.65,395.74 L153.07,398.66 L153.51,401.49 L153.98,404.21 L154.50,406.80 L155.08,409.27 L155.71,411.66 L156.38,413.93 L157.06,416.07 L157.74,418.06 L158.40,419.90 L159.05,421.52 L159.71,422.93 L160.38,424.19 L161.03,425.37 L161.67,426.56 L162.30,427.80 L162.87,429.11 L163.39,430.43 L163.89,431.74 L164.43,433.03 L165.05,434.29 L165.80,435.50 L166.72,436.70 L167.79,437.91 L168.94,439.08 L170.11,440.18 L171.25,441.17 L172.30,442.00 L173.24,442.66 L174.11,443.18 L174.94,443.59 L175.78,443.91 L176.66,444.17 L177.60,444.40 L178.63,444.60 L179.71,444.74 L180.82,444.82 L181.96,444.85 L183.09,444.81 L184.20,444.70 L185.30,444.51 L186.42,444.25 L187.53,443.92 L188.63,443.55 L189.69,443.14 L190.70,442.70 L191.65,442.24 L192.56,441.74 L193.43,441.21 L194.29,440.64 L195.14,440.04 L196.00,439.40 L196.86,438.72 L197.69,437.99 L198.52,437.22 L199.37,436.43 L200.25,435.62 L201.20,434.80 L202.20,433.95 L203.25,433.07 L204.33,432.16 L205.45,431.27 L206.61,430.40 L207.80,429.60 L209.06,428.79 L210.39,427.96 L211.75,427.15 L213.11,426.44 L214.44,425.91 L215.70,425.60 L216.88,425.56 L218.00,425.73 L219.09,426.06 L220.16,426.52 L221.22,427.05 L222.30,427.60 L223.39,428.24 L224.49,429.03 L225.58,429.88 L226.67,430.74 L227.74,431.54 L228.80,432.20 L229.85,432.72 L230.90,433.14 L231.94,433.51 L232.96,433.83 L233.95,434.15 L234.90,434.50 L235.80,434.91 L236.65,435.37 L237.47,435.83 L238.27,436.22 L239.08,436.50 L239.90,436.60 L240.72,436.50 L241.52,436.24 L242.32,435.86 L243.14,435.41 L244.00,434.94 L244.90,434.50 L245.84,434.06 L246.79,433.58 L247.78,433.07 L248.81,432.57 L249.91,432.07 L251.10,431.60 L252.41,431.12 L253.83,430.60 L255.32,430.09 L256.83,429.64 L258.30,429.29 L259.70,429.10 L261.03,429.09 L262.33,429.23 L263.60,429.48 L264.84,429.79 L266.04,430.11 L267.20,430.40 L268.31,430.71 L269.36,431.10 L270.38,431.49 L271.38,431.85 L272.38,432.10 L273.40,432.20 L274.43,432.11 L275.47,431.88 L276.50,431.54 L277.53,431.16 L278.57,430.76 L279.60,430.40 L280.65,430.04 L281.71,429.64 L282.78,429.24 L283.82,428.86 L284.84,428.53 L285.80,428.30 L286.72,428.18 L287.60,428.14 L288.46,428.17 L289.27,428.22 L290.06,428.28 L290.80,428.30 L291.53,428.30 L292.27,428.30 L292.96,428.30 L293.59,428.30 L294.11,428.30 L294.50,428.30" stroke="#0000ff" stroke-width="1.7" stroke-dasharray="1.5 1.7"/>
</g>
<rect x="40.50" y="261.50" width="268.00" height="199.00" fill="none" stroke="#545454" stroke-width="1"/>
<line x1="37.70" y1="445.50" x2="40.50" y2="445.50" stroke="#777777" stroke-width="1"/>
<text x="35.80" y="450.60" font-family="'Liberation Sans', sans-serif" font-size="12" font-style="normal" text-anchor="end" fill="#000" textLength="17.97" lengthAdjust="spacingAndGlyphs">0.0</text>
<line x1="37.70" y1="412.10" x2="40.50" y2="412.10" stroke="#777777" stroke-width="1"/>
<text x="35.80" y="417.20" font-family="'Liberation Sans', sans-serif" font-size="12" font-style="normal" text-anchor="end" fill="#000" textLength="17.97" lengthAdjust="spacingAndGlyphs">0.2</text>
<line x1="37.70" y1="378.70" x2="40.50" y2="378.70" stroke="#777777" stroke-width="1"/>
<text x="35.80" y="383.80" font-family="'Liberation Sans', sans-serif" font-size="12" font-style="normal" text-anchor="end" fill="#000" textLength="17.97" lengthAdjust="spacingAndGlyphs">0.4</text>
<line x1="37.70" y1="345.30" x2="40.50" y2="345.30" stroke="#777777" stroke-width="1"/>
<text x="35.80" y="350.40" font-family="'Liberation Sans', sans-serif" font-size="12" font-style="normal" text-anchor="end" fill="#000" textLength="17.97" lengthAdjust="spacingAndGlyphs">0.6</text>
<line x1="37.70" y1="311.90" x2="40.50" y2="311.90" stroke="#777777" stroke-width="1"/>
<text x="35.80" y="317.00" font-family="'Liberation Sans', sans-serif" font-size="12" font-style="normal" text-anchor="end" fill="#000" textLength="17.97" lengthAdjust="spacingAndGlyphs">0.8</text>
<line x1="37.70" y1="278.50" x2="40.50" y2="278.50" stroke="#777777" stroke-width="1"/>
<text x="35.80" y="283.60" font-family="'Liberation Sans', sans-serif" font-size="12" font-style="normal" text-anchor="end" fill="#000" textLength="17.97" lengthAdjust="spacingAndGlyphs">1.0</text>
<line x1="70.60" y1="460.50" x2="70.60" y2="463.30" stroke="#777777" stroke-width="1"/>
<text x="70.60" y="474.00" font-family="'Liberation Sans', sans-serif" font-size="12" font-style="normal" text-anchor="middle" fill="#000" textLength="7.19" lengthAdjust="spacingAndGlyphs">1</text>
<line x1="137.70" y1="460.50" x2="137.70" y2="463.30" stroke="#777777" stroke-width="1"/>
<text x="137.70" y="474.00" font-family="'Liberation Sans', sans-serif" font-size="12" font-style="normal" text-anchor="middle" fill="#000" textLength="7.19" lengthAdjust="spacingAndGlyphs">2</text>
<line x1="204.80" y1="460.50" x2="204.80" y2="463.30" stroke="#777777" stroke-width="1"/>
<text x="204.80" y="474.00" font-family="'Liberation Sans', sans-serif" font-size="12" font-style="normal" text-anchor="middle" fill="#000" textLength="7.19" lengthAdjust="spacingAndGlyphs">3</text>
<line x1="271.90" y1="460.50" x2="271.90" y2="463.30" stroke="#777777" stroke-width="1"/>
<text x="271.90" y="474.00" font-family="'Liberation Sans', sans-serif" font-size="12" font-style="normal" text-anchor="middle" fill="#000" textLength="7.19" lengthAdjust="spacingAndGlyphs">4</text>
<text x="163.40" y="488.20" font-family="'Liberation Sans', sans-serif" font-size="12.5" textLength="21.0" lengthAdjust="spacingAndGlyphs"><tspan font-style="italic">t</tspan>/<tspan font-style="italic">T</tspan><tspan font-size="8.75" dy="1.88">0</tspan></text>
<text x="4.60" y="348.10" font-family="'Liberation Sans', sans-serif" font-size="8.2" font-style="italic" text-anchor="middle">η</text>
<line x1="-2.00" y1="352.40" x2="9.30" y2="352.40" stroke="#222" stroke-width="0.7"/>
<text x="3.60" y="359.00" font-family="'Liberation Sans', sans-serif" font-size="8.2" font-style="italic" text-anchor="middle">η<tspan font-size="6" font-style="normal" dy="1">0</tspan></text>
<text x="126.10" y="515.20" font-family="'Liberation Serif', serif" font-size="16" font-style="normal" text-anchor="start" fill="#000" textLength="55.10" lengthAdjust="spacingAndGlyphs" stroke="#000" stroke-width="0.25">(c) WG2</text>
<clipPath id="e"><rect x="34.5" y="522.5" width="274.0" height="204.0"/></clipPath>
<g clip-path="url(#e)" fill="none" stroke-linejoin="round">
<path d="M47.10,707.10 L47.55,707.39 L48.14,707.80 L48.86,708.29 L49.68,708.80 L50.57,709.28 L51.50,709.70 L52.50,710.10 L53.57,710.53 L54.73,710.93 L55.94,711.26 L57.20,711.47 L58.50,711.50 L59.84,711.28 L61.24,710.83 L62.68,710.26 L64.17,709.67 L65.71,709.15 L67.30,708.80 L68.99,708.63 L70.80,708.57 L72.66,708.58 L74.50,708.63 L76.23,708.72 L77.80,708.80 L79.15,708.89 L80.33,709.00 L81.41,709.14 L82.46,709.30 L83.57,709.49 L84.80,709.70 L86.14,709.96 L87.54,710.28 L88.98,710.63 L90.47,710.96 L92.01,711.26 L93.60,711.50 L95.25,711.68 L96.97,711.82 L98.74,711.93 L100.54,712.00 L102.33,712.02 L104.10,712.00 L105.85,711.90 L107.60,711.74 L109.35,711.52 L111.10,711.30 L112.85,711.08 L114.60,710.90 L116.37,710.76 L118.16,710.65 L119.96,710.54 L121.73,710.44 L123.45,710.33 L125.10,710.20 L126.69,710.08 L128.23,710.00 L129.72,709.90 L131.16,709.76 L132.56,709.54 L133.90,709.20 L135.19,708.77 L136.43,708.29 L137.63,707.73 L138.77,707.06 L139.86,706.26 L140.90,705.30 L141.90,704.19 L142.86,702.95 L143.77,701.58 L144.62,700.07 L145.40,698.41 L146.10,696.60 L146.70,694.73 L147.20,692.84 L147.62,690.79 L148.01,688.49 L148.40,685.79 L148.80,682.60 L149.23,678.67 L149.67,674.06 L150.11,669.06 L150.51,663.99 L150.88,659.13 L151.20,654.80 L151.45,651.12 L151.65,647.87 L151.81,644.85 L151.95,641.84 L152.07,638.62 L152.20,635.00 L152.32,630.92 L152.43,626.56 L152.52,621.99 L152.61,617.32 L152.70,612.62 L152.80,608.00 L152.89,603.27 L152.97,598.33 L153.06,593.37 L153.16,588.58 L153.30,584.16 L153.50,580.30 L153.78,576.91 L154.12,573.83 L154.51,571.11 L154.90,568.82 L155.27,567.03 L155.60,565.80 L155.87,565.27 L156.10,565.43 L156.31,566.08 L156.51,567.04 L156.74,568.14 L157.00,569.20 L157.30,570.59 L157.62,572.52 L157.96,574.59 L158.30,576.39 L158.65,577.50 L159.00,577.50 L159.35,576.11 L159.72,573.59 L160.09,570.38 L160.45,566.91 L160.79,563.64 L161.10,561.00 L161.37,558.92 L161.62,557.03 L161.84,555.34 L162.06,553.82 L162.27,552.48 L162.50,551.30 L162.73,550.23 L162.94,549.26 L163.16,548.47 L163.39,547.91 L163.63,547.67 L163.90,547.80 L164.21,548.30 L164.54,549.13 L164.90,550.26 L165.26,551.69 L165.59,553.40 L165.90,555.40 L166.16,557.80 L166.39,560.63 L166.59,563.75 L166.80,567.01 L167.03,570.28 L167.30,573.40 L167.61,576.48 L167.95,579.66 L168.31,582.84 L168.67,585.92 L169.04,588.81 L169.40,591.40 L169.74,593.70 L170.08,595.79 L170.41,597.67 L170.76,599.39 L171.12,600.96 L171.50,602.40 L171.90,603.66 L172.30,604.72 L172.72,605.63 L173.17,606.44 L173.66,607.22 L174.20,608.00 L174.84,608.79 L175.59,609.55 L176.37,610.27 L177.14,610.94 L177.83,611.55 L178.40,612.10 L178.80,612.53 L179.07,612.84 L179.27,613.09 L179.45,613.35 L179.68,613.70 L180.00,614.20 L180.43,614.85 L180.93,615.60 L181.46,616.44 L182.02,617.34 L182.57,618.30 L183.10,619.30 L183.60,620.39 L184.10,621.59 L184.60,622.85 L185.10,624.11 L185.60,625.31 L186.10,626.40 L186.59,627.40 L187.05,628.36 L187.52,629.26 L188.01,630.10 L188.57,630.85 L189.20,631.50 L189.93,632.06 L190.75,632.54 L191.62,632.93 L192.53,633.24 L193.43,633.46 L194.30,633.60 L195.17,633.58 L196.07,633.39 L196.98,633.11 L197.85,632.83 L198.67,632.63 L199.40,632.60 L200.05,632.72 L200.62,632.92 L201.14,633.20 L201.62,633.57 L202.07,634.04 L202.50,634.60 L202.89,635.30 L203.23,636.12 L203.54,637.04 L203.84,638.02 L204.15,639.02 L204.50,640.00 L204.86,640.90 L205.20,641.75 L205.56,642.61 L205.96,643.57 L206.43,644.71 L207.00,646.10 L207.69,647.83 L208.48,649.86 L209.34,652.06 L210.24,654.31 L211.14,656.50 L212.00,658.50 L212.83,660.31 L213.67,662.04 L214.51,663.69 L215.34,665.31 L216.17,666.90 L217.00,668.50 L217.84,670.23 L218.69,672.11 L219.54,673.96 L220.37,675.64 L221.16,676.97 L221.90,677.80 L222.56,678.01 L223.16,677.70 L223.73,677.04 L224.28,676.23 L224.86,675.42 L225.50,674.80 L226.19,674.40 L226.90,674.08 L227.63,673.77 L228.39,673.41 L229.18,672.91 L230.00,672.20 L230.87,671.14 L231.80,669.76 L232.76,668.24 L233.71,666.79 L234.64,665.57 L235.50,664.80 L236.28,664.59 L236.98,664.82 L237.66,665.30 L238.34,665.83 L239.08,666.23 L239.90,666.30 L240.84,665.90 L241.88,665.15 L242.96,664.27 L244.06,663.46 L245.12,662.93 L246.10,662.90 L247.02,663.45 L247.90,664.43 L248.76,665.69 L249.57,667.09 L250.36,668.48 L251.10,669.70 L251.80,670.77 L252.45,671.80 L253.07,672.81 L253.66,673.84 L254.23,674.89 L254.80,676.00 L255.36,677.31 L255.90,678.84 L256.43,680.41 L256.93,681.81 L257.43,682.87 L257.90,683.40 L258.36,683.29 L258.80,682.67 L259.23,681.71 L259.64,680.57 L260.03,679.41 L260.40,678.40 L260.73,677.44 L261.03,676.37 L261.30,675.29 L261.57,674.27 L261.87,673.42 L262.20,672.80 L262.55,672.45 L262.91,672.29 L263.29,672.29 L263.70,672.41 L264.17,672.59 L264.70,672.80 L265.33,673.14 L266.05,673.68 L266.82,674.28 L267.61,674.83 L268.39,675.21 L269.10,675.30 L269.75,674.99 L270.36,674.34 L270.96,673.53 L271.55,672.70 L272.16,672.00 L272.80,671.60 L273.50,671.56 L274.26,671.77 L275.03,672.12 L275.78,672.49 L276.48,672.75 L277.10,672.80 L277.63,672.62 L278.09,672.32 L278.50,671.91 L278.88,671.44 L279.24,670.92 L279.60,670.40 L279.95,669.77 L280.28,669.00 L280.59,668.19 L280.90,667.45 L281.20,666.88 L281.50,666.60 L281.80,666.62 L282.10,666.86 L282.40,667.28 L282.70,667.82 L283.00,668.44 L283.30,669.10 L283.59,669.91 L283.86,670.95 L284.13,672.06 L284.43,673.12 L284.78,673.98 L285.20,674.50 L285.73,674.72 L286.34,674.74 L287.01,674.57 L287.69,674.19 L288.33,673.61 L288.90,672.80 L289.40,671.63 L289.86,670.08 L290.28,668.31 L290.68,666.51 L291.05,664.85 L291.40,663.50 L291.72,662.40 L292.00,661.40 L292.26,660.54 L292.51,659.86 L292.75,659.40 L293.00,659.20 L293.26,659.32 L293.52,659.75 L293.77,660.39 L294.03,661.19 L294.27,662.05 L294.50,662.90 L294.73,663.86 L294.97,665.01 L295.19,666.23 L295.40,667.40 L295.57,668.40 L295.70,669.10" stroke="#008000" stroke-width="1.2" stroke-dasharray="2.7 1.6"/>
<path d="M47.10,716.70 L49.33,716.70 L52.29,716.70 L55.86,716.70 L59.91,716.70 L64.33,716.70 L69.00,716.70 L74.17,716.71 L79.99,716.72 L86.17,716.73 L92.44,716.74 L98.51,716.73 L104.10,716.70 L109.40,716.65 L114.67,716.60 L119.74,716.53 L124.45,716.44 L128.63,716.33 L132.10,716.20 L134.72,716.07 L136.59,715.94 L137.93,715.79 L138.94,715.60 L139.86,715.34 L140.90,715.00 L141.99,714.58 L142.96,714.10 L143.83,713.56 L144.63,712.95 L145.37,712.27 L146.10,711.50 L146.79,710.65 L147.42,709.73 L148.01,708.73 L148.56,707.65 L149.08,706.51 L149.60,705.30 L150.11,704.02 L150.60,702.65 L151.06,701.22 L151.50,699.73 L151.92,698.18 L152.30,696.60 L152.64,695.12 L152.95,693.77 L153.23,692.38 L153.49,690.75 L153.74,688.72 L154.00,686.10 L154.26,682.77 L154.51,678.85 L154.75,674.52 L154.99,669.97 L155.24,665.40 L155.50,661.00 L155.78,656.65 L156.07,652.18 L156.38,647.69 L156.67,643.26 L156.95,639.00 L157.20,635.00 L157.42,631.40 L157.63,628.14 L157.81,625.06 L157.99,621.94 L158.15,618.62 L158.30,614.90 L158.44,610.64 L158.56,605.97 L158.68,601.09 L158.78,596.20 L158.89,591.50 L159.00,587.20 L159.12,583.35 L159.23,579.81 L159.35,576.46 L159.47,573.20 L159.58,569.92 L159.70,566.50 L159.82,562.83 L159.93,558.97 L160.05,555.08 L160.17,551.34 L160.28,547.93 L160.40,545.00 L160.52,542.55 L160.66,540.44 L160.79,538.66 L160.92,537.17 L161.02,535.95 L161.10,535.00 L161.52,535.00 L162.14,535.00 L162.85,535.00 L163.56,535.00 L164.18,535.00 L164.60,535.00 L164.77,536.81 L165.01,539.22 L165.29,542.12 L165.59,545.41 L165.90,548.97 L166.20,552.70 L166.48,556.81 L166.75,561.42 L167.02,566.31 L167.32,571.24 L167.64,575.98 L168.00,580.30 L168.40,584.18 L168.84,587.81 L169.30,591.25 L169.79,594.56 L170.29,597.79 L170.80,601.00 L171.33,604.23 L171.89,607.42 L172.47,610.54 L173.05,613.54 L173.63,616.38 L174.20,619.00 L174.75,621.35 L175.30,623.47 L175.84,625.41 L176.39,627.27 L176.94,629.10 L177.50,631.00 L178.05,632.91 L178.60,634.76 L179.14,636.59 L179.71,638.45 L180.33,640.37 L181.00,642.40 L181.75,644.59 L182.56,646.94 L183.41,649.34 L184.29,651.73 L185.16,654.01 L186.00,656.10 L186.82,658.00 L187.64,659.77 L188.45,661.44 L189.26,663.03 L190.08,664.54 L190.90,666.00 L191.71,667.41 L192.51,668.74 L193.32,670.01 L194.14,671.20 L195.00,672.33 L195.90,673.40 L196.86,674.39 L197.88,675.29 L198.92,676.13 L199.99,676.92 L201.05,677.67 L202.10,678.40 L203.13,679.08 L204.17,679.68 L205.20,680.25 L206.23,680.82 L207.27,681.42 L208.30,682.10 L209.35,682.87 L210.41,683.72 L211.48,684.60 L212.52,685.48 L213.54,686.33 L214.50,687.10 L215.42,687.85 L216.30,688.61 L217.16,689.34 L217.97,689.98 L218.76,690.48 L219.50,690.80 L220.19,690.89 L220.83,690.79 L221.43,690.55 L222.01,690.23 L222.60,689.90 L223.20,689.60 L223.82,689.30 L224.46,688.96 L225.09,688.59 L225.71,688.23 L226.32,687.93 L226.90,687.70 L227.44,687.56 L227.96,687.47 L228.45,687.43 L228.94,687.42 L229.46,687.45 L230.00,687.50 L230.57,687.55 L231.14,687.61 L231.74,687.71 L232.36,687.85 L233.01,688.08 L233.70,688.40 L234.45,688.88 L235.24,689.51 L236.07,690.21 L236.91,690.93 L237.76,691.58 L238.60,692.10 L239.43,692.49 L240.26,692.81 L241.09,693.06 L241.93,693.27 L242.77,693.44 L243.60,693.60 L244.43,693.69 L245.27,693.69 L246.11,693.65 L246.94,693.64 L247.77,693.70 L248.60,693.90 L249.42,694.25 L250.24,694.70 L251.05,695.23 L251.86,695.81 L252.68,696.41 L253.50,697.00 L254.33,697.61 L255.16,698.27 L255.99,698.94 L256.83,699.61 L257.67,700.24 L258.50,700.80 L259.32,701.32 L260.12,701.81 L260.93,702.27 L261.74,702.67 L262.60,702.99 L263.50,703.20 L264.45,703.27 L265.43,703.21 L266.45,703.07 L267.50,702.89 L268.58,702.72 L269.70,702.60 L270.88,702.55 L272.12,702.52 L273.40,702.51 L274.68,702.48 L275.92,702.42 L277.10,702.30 L278.20,702.14 L279.26,701.95 L280.27,701.72 L281.28,701.46 L282.28,701.16 L283.30,700.80 L284.36,700.34 L285.46,699.77 L286.56,699.16 L287.62,698.56 L288.61,698.06 L289.50,697.70 L290.28,697.50 L290.96,697.41 L291.58,697.41 L292.15,697.47 L292.68,697.57 L293.20,697.70 L293.72,697.89 L294.21,698.17 L294.68,698.50 L295.10,698.83 L295.44,699.11 L295.70,699.30" stroke="#ffa500" stroke-width="1.2" stroke-dasharray="2.7 1.6"/>
<path d="M46.30,713.70 L48.73,713.70 L52.05,713.70 L56.01,713.70 L60.33,713.70 L64.75,713.70 L69.00,713.70 L73.17,713.70 L77.50,713.71 L81.93,713.72 L86.40,713.72 L90.88,713.72 L95.30,713.70 L99.89,713.69 L104.71,713.68 L109.54,713.67 L114.13,713.63 L118.23,713.55 L121.60,713.40 L124.11,713.19 L125.93,712.94 L127.26,712.65 L128.31,712.31 L129.29,711.93 L130.40,711.50 L131.59,711.06 L132.70,710.61 L133.72,710.12 L134.69,709.55 L135.61,708.86 L136.50,708.00 L137.35,706.99 L138.16,705.86 L138.92,704.60 L139.63,703.22 L140.29,701.72 L140.90,700.10 L141.44,698.36 L141.90,696.52 L142.31,694.55 L142.70,692.45 L143.09,690.20 L143.50,687.80 L143.94,685.21 L144.40,682.42 L144.85,679.49 L145.29,676.46 L145.71,673.38 L146.10,670.30 L146.46,667.15 L146.79,663.88 L147.10,660.56 L147.39,657.26 L147.66,654.05 L147.90,651.00 L148.12,648.19 L148.31,645.57 L148.48,643.05 L148.63,640.51 L148.77,637.87 L148.90,635.00 L149.00,631.98 L149.07,628.89 L149.13,625.68 L149.19,622.31 L149.28,618.74 L149.40,614.90 L149.57,610.72 L149.77,606.23 L149.99,601.52 L150.23,596.71 L150.47,591.90 L150.70,587.20 L150.93,582.56 L151.17,577.88 L151.41,573.21 L151.64,568.57 L151.88,564.03 L152.10,559.60 L152.33,555.04 L152.56,550.27 L152.79,545.57 L153.00,541.27 L153.17,537.64 L153.30,535.00 L153.99,535.00 L154.99,535.00 L156.15,535.00 L157.31,535.00 L158.31,535.00 L159.00,535.00 L159.14,537.64 L159.34,541.27 L159.57,545.57 L159.83,550.27 L160.11,555.04 L160.40,559.60 L160.69,564.11 L161.00,568.83 L161.32,573.64 L161.68,578.39 L162.07,582.96 L162.50,587.20 L163.00,591.06 L163.58,594.63 L164.19,598.01 L164.80,601.30 L165.38,604.60 L165.90,608.00 L166.34,611.58 L166.73,615.27 L167.08,618.96 L167.43,622.56 L167.79,625.94 L168.20,629.00 L168.64,631.68 L169.09,634.07 L169.56,636.24 L170.05,638.29 L170.56,640.31 L171.10,642.40 L171.66,644.51 L172.23,646.56 L172.82,648.58 L173.45,650.61 L174.10,652.67 L174.80,654.80 L175.54,657.06 L176.32,659.43 L177.14,661.83 L177.98,664.20 L178.83,666.44 L179.70,668.50 L180.60,670.36 L181.53,672.09 L182.49,673.69 L183.43,675.20 L184.35,676.63 L185.20,678.00 L185.99,679.30 L186.73,680.52 L187.44,681.66 L188.13,682.72 L188.81,683.70 L189.50,684.60 L190.18,685.41 L190.84,686.14 L191.49,686.78 L192.14,687.35 L192.81,687.86 L193.50,688.30 L194.17,688.66 L194.80,688.94 L195.44,689.14 L196.15,689.31 L196.98,689.45 L198.00,689.60 L199.26,689.74 L200.72,689.85 L202.31,689.94 L203.94,690.03 L205.53,690.11 L207.00,690.20 L208.35,690.28 L209.66,690.35 L210.92,690.42 L212.15,690.50 L213.34,690.62 L214.50,690.80 L215.62,691.02 L216.71,691.27 L217.77,691.55 L218.79,691.88 L219.76,692.26 L220.70,692.70 L221.58,693.22 L222.41,693.80 L223.21,694.44 L223.97,695.11 L224.73,695.80 L225.50,696.50 L226.26,697.21 L227.01,697.94 L227.74,698.69 L228.48,699.46 L229.23,700.23 L230.00,701.00 L230.78,701.81 L231.56,702.69 L232.34,703.57 L233.16,704.40 L234.00,705.13 L234.90,705.70 L235.84,706.10 L236.82,706.37 L237.84,706.54 L238.89,706.63 L239.98,706.67 L241.10,706.70 L242.30,706.72 L243.60,706.71 L244.93,706.66 L246.24,706.54 L247.49,706.33 L248.60,706.00 L249.57,705.55 L250.42,704.99 L251.21,704.34 L251.96,703.62 L252.71,702.83 L253.50,702.00 L254.31,701.08 L255.11,700.05 L255.92,698.96 L256.74,697.86 L257.60,696.79 L258.50,695.80 L259.46,694.87 L260.48,693.96 L261.53,693.08 L262.59,692.25 L263.65,691.49 L264.70,690.80 L265.75,690.19 L266.81,689.63 L267.87,689.14 L268.92,688.71 L269.94,688.37 L270.90,688.10 L271.80,687.90 L272.66,687.75 L273.48,687.68 L274.29,687.70 L275.09,687.84 L275.90,688.10 L276.72,688.51 L277.54,689.06 L278.35,689.71 L279.16,690.46 L279.98,691.26 L280.80,692.10 L281.63,693.04 L282.46,694.12 L283.29,695.26 L284.13,696.38 L284.97,697.42 L285.80,698.30 L286.63,699.01 L287.47,699.62 L288.31,700.14 L289.14,700.59 L289.97,701.01 L290.80,701.40 L291.68,701.77 L292.62,702.10 L293.56,702.39 L294.43,702.64 L295.17,702.84 L295.70,703.00" stroke="#ff0000" stroke-width="1.2"/>
<path d="M48.00,708.80 L50.22,708.85 L53.25,708.93 L56.86,709.02 L60.83,709.11 L64.95,709.17 L69.00,709.20 L73.12,709.18 L77.50,709.13 L82.04,709.06 L86.60,708.97 L91.06,708.88 L95.30,708.80 L99.44,708.74 L103.61,708.70 L107.69,708.66 L111.54,708.59 L115.05,708.48 L118.10,708.30 L120.60,708.06 L122.64,707.77 L124.34,707.44 L125.81,707.06 L127.19,706.65 L128.60,706.20 L130.01,705.73 L131.32,705.23 L132.54,704.70 L133.66,704.11 L134.68,703.45 L135.60,702.70 L136.40,701.93 L137.06,701.15 L137.62,700.31 L138.13,699.31 L138.61,698.10 L139.10,696.60 L139.58,694.77 L140.03,692.65 L140.45,690.32 L140.86,687.83 L141.27,685.23 L141.70,682.60 L142.15,679.87 L142.60,677.00 L143.05,674.02 L143.50,670.99 L143.95,667.97 L144.40,665.00 L144.85,662.08 L145.31,659.16 L145.78,656.24 L146.22,653.33 L146.63,650.42 L147.00,647.50 L147.31,644.72 L147.58,642.09 L147.82,639.47 L148.04,636.69 L148.26,633.58 L148.50,630.00 L148.76,625.70 L149.03,620.77 L149.30,615.52 L149.56,610.27 L149.80,605.32 L150.00,601.00 L150.15,597.44 L150.27,594.42 L150.36,591.71 L150.44,589.07 L150.55,586.28 L150.70,583.10 L150.89,579.48 L151.11,575.58 L151.36,571.53 L151.61,567.44 L151.86,563.43 L152.10,559.60 L152.33,555.82 L152.54,551.95 L152.76,548.16 L152.98,544.60 L153.23,541.43 L153.50,538.80 L153.79,536.70 L154.10,535.01 L154.42,533.71 L154.78,532.77 L155.17,532.17 L155.60,531.90 L156.11,531.83 L156.69,531.94 L157.30,532.40 L157.91,533.36 L158.49,534.97 L159.00,537.40 L159.43,540.90 L159.80,545.41 L160.13,550.57 L160.45,556.04 L160.77,561.46 L161.10,566.50 L161.45,571.41 L161.80,576.53 L162.15,581.60 L162.50,586.39 L162.85,590.63 L163.20,594.10 L163.55,596.47 L163.90,597.89 L164.26,598.76 L164.61,599.53 L164.96,600.60 L165.30,602.40 L165.64,605.11 L165.99,608.42 L166.34,612.04 L166.67,615.68 L167.00,619.03 L167.30,621.80 L167.56,623.90 L167.76,625.54 L167.96,626.90 L168.17,628.15 L168.44,629.46 L168.80,631.00 L169.27,632.73 L169.81,634.51 L170.41,636.34 L171.04,638.26 L171.68,640.27 L172.30,642.40 L172.91,644.71 L173.52,647.20 L174.14,649.79 L174.76,652.39 L175.38,654.92 L176.00,657.30 L176.60,659.54 L177.19,661.71 L177.77,663.81 L178.37,665.84 L179.01,667.81 L179.70,669.70 L180.44,671.49 L181.23,673.18 L182.04,674.80 L182.90,676.39 L183.78,677.97 L184.70,679.60 L185.66,681.26 L186.68,682.93 L187.72,684.60 L188.79,686.27 L189.85,687.94 L190.90,689.60 L191.92,691.30 L192.92,693.04 L193.92,694.79 L194.94,696.48 L195.99,698.07 L197.10,699.50 L198.28,700.79 L199.51,701.98 L200.77,703.06 L202.06,704.04 L203.34,704.92 L204.60,705.70 L205.84,706.38 L207.07,706.97 L208.30,707.46 L209.53,707.83 L210.76,708.08 L212.00,708.20 L213.27,708.14 L214.57,707.90 L215.87,707.54 L217.14,707.11 L218.36,706.68 L219.50,706.30 L220.54,705.98 L221.50,705.66 L222.41,705.34 L223.28,705.00 L224.14,704.63 L225.00,704.20 L225.86,703.71 L226.71,703.18 L227.54,702.61 L228.36,702.01 L229.18,701.40 L230.00,700.80 L230.81,700.20 L231.59,699.58 L232.38,698.96 L233.17,698.32 L234.01,697.67 L234.90,697.00 L235.86,696.31 L236.87,695.58 L237.92,694.84 L238.99,694.11 L240.05,693.39 L241.10,692.70 L242.13,692.03 L243.17,691.36 L244.20,690.70 L245.23,690.08 L246.27,689.51 L247.30,689.00 L248.33,688.54 L249.37,688.09 L250.40,687.70 L251.43,687.39 L252.47,687.18 L253.50,687.10 L254.53,687.18 L255.56,687.39 L256.59,687.70 L257.63,688.09 L258.66,688.54 L259.70,689.00 L260.76,689.52 L261.84,690.12 L262.93,690.77 L264.00,691.44 L265.03,692.10 L266.00,692.70 L266.90,693.25 L267.73,693.76 L268.53,694.26 L269.31,694.76 L270.09,695.27 L270.90,695.80 L271.71,696.43 L272.51,697.15 L273.32,697.89 L274.14,698.55 L275.00,699.05 L275.90,699.30 L276.86,699.26 L277.88,698.99 L278.93,698.56 L279.99,698.04 L281.05,697.50 L282.10,697.00 L283.12,696.53 L284.12,696.03 L285.13,695.51 L286.14,694.98 L287.20,694.44 L288.30,693.90 L289.55,693.32 L290.95,692.69 L292.39,692.06 L293.74,691.46 L294.88,690.96 L295.70,690.60" stroke="#2a2aff" stroke-width="1.2" stroke-dasharray="1.0 1.1"/>
</g>
<rect x="34.50" y="522.50" width="274.00" height="204.00" fill="none" stroke="#545454" stroke-width="1"/>
<line x1="31.70" y1="711.10" x2="34.50" y2="711.10" stroke="#777777" stroke-width="1"/>
<text x="31.20" y="715.91" font-family="'Liberation Sans', sans-serif" font-size="11.2" font-style="normal" text-anchor="end" fill="#000" textLength="17.17" lengthAdjust="spacingAndGlyphs">0.0</text>
<line x1="31.70" y1="675.74" x2="34.50" y2="675.74" stroke="#777777" stroke-width="1"/>
<text x="31.20" y="680.55" font-family="'Liberation Sans', sans-serif" font-size="11.2" font-style="normal" text-anchor="end" fill="#000" textLength="17.17" lengthAdjust="spacingAndGlyphs">0.2</text>
<line x1="31.70" y1="640.38" x2="34.50" y2="640.38" stroke="#777777" stroke-width="1"/>
<text x="31.20" y="645.19" font-family="'Liberation Sans', sans-serif" font-size="11.2" font-style="normal" text-anchor="end" fill="#000" textLength="17.17" lengthAdjust="spacingAndGlyphs">0.4</text>
<line x1="31.70" y1="605.02" x2="34.50" y2="605.02" stroke="#777777" stroke-width="1"/>
<text x="31.20" y="609.83" font-family="'Liberation Sans', sans-serif" font-size="11.2" font-style="normal" text-anchor="end" fill="#000" textLength="17.17" lengthAdjust="spacingAndGlyphs">0.6</text>
<line x1="31.70" y1="569.66" x2="34.50" y2="569.66" stroke="#777777" stroke-width="1"/>
<text x="31.20" y="574.47" font-family="'Liberation Sans', sans-serif" font-size="11.2" font-style="normal" text-anchor="end" fill="#000" textLength="17.17" lengthAdjust="spacingAndGlyphs">0.8</text>
<line x1="31.70" y1="534.30" x2="34.50" y2="534.30" stroke="#777777" stroke-width="1"/>
<text x="31.20" y="539.11" font-family="'Liberation Sans', sans-serif" font-size="11.2" font-style="normal" text-anchor="end" fill="#000" textLength="17.17" lengthAdjust="spacingAndGlyphs">1.0</text>
<line x1="65.60" y1="726.50" x2="65.60" y2="729.30" stroke="#777777" stroke-width="1"/>
<text x="65.60" y="737.90" font-family="'Liberation Sans', sans-serif" font-size="11.2" font-style="normal" text-anchor="middle" fill="#000" textLength="6.87" lengthAdjust="spacingAndGlyphs">1</text>
<line x1="133.90" y1="726.50" x2="133.90" y2="729.30" stroke="#777777" stroke-width="1"/>
<text x="133.90" y="737.90" font-family="'Liberation Sans', sans-serif" font-size="11.2" font-style="normal" text-anchor="middle" fill="#000" textLength="6.87" lengthAdjust="spacingAndGlyphs">2</text>
<line x1="202.20" y1="726.50" x2="202.20" y2="729.30" stroke="#777777" stroke-width="1"/>
<text x="202.20" y="737.90" font-family="'Liberation Sans', sans-serif" font-size="11.2" font-style="normal" text-anchor="middle" fill="#000" textLength="6.87" lengthAdjust="spacingAndGlyphs">3</text>
<line x1="270.50" y1="726.50" x2="270.50" y2="729.30" stroke="#777777" stroke-width="1"/>
<text x="270.50" y="737.90" font-family="'Liberation Sans', sans-serif" font-size="11.2" font-style="normal" text-anchor="middle" fill="#000" textLength="6.87" lengthAdjust="spacingAndGlyphs">4</text>
<text x="160.70" y="750.30" font-family="'Liberation Sans', sans-serif" font-size="11.8" textLength="21.0" lengthAdjust="spacingAndGlyphs"><tspan font-style="italic">t</tspan>/<tspan font-style="italic">T</tspan><tspan font-size="8.26" dy="1.77">0</tspan></text>
<text x="4.60" y="612.10" font-family="'Liberation Sans', sans-serif" font-size="8.2" font-style="italic" text-anchor="middle">η</text>
<line x1="-2.00" y1="616.40" x2="9.30" y2="616.40" stroke="#222" stroke-width="0.7"/>
<text x="3.60" y="623.00" font-family="'Liberation Sans', sans-serif" font-size="8.2" font-style="italic" text-anchor="middle">η<tspan font-size="6" font-style="normal" dy="1">0</tspan></text>
<text x="126.10" y="777.40" font-family="'Liberation Serif', serif" font-size="16" font-style="normal" text-anchor="start" fill="#000" textLength="55.10" lengthAdjust="spacingAndGlyphs" stroke="#000" stroke-width="0.25">(e) WG3</text>
<rect x="434.42" y="51.17" width="30.97" height="50.13" fill="#0000ff" stroke="#222" stroke-width="0.9"/>
<rect x="465.40" y="101.30" width="30.97" height="44.01" fill="#f97306" stroke="#222" stroke-width="0.9"/>
<rect x="522.92" y="101.30" width="30.97" height="9.18" fill="#0000ff" stroke="#222" stroke-width="0.9"/>
<rect x="553.90" y="101.30" width="30.97" height="37.30" fill="#f97306" stroke="#222" stroke-width="0.9"/>
<rect x="611.42" y="101.30" width="30.97" height="9.18" fill="#0000ff" stroke="#222" stroke-width="0.9"/>
<rect x="642.40" y="88.80" width="30.97" height="12.50" fill="#f97306" stroke="#222" stroke-width="0.9"/>
<rect x="422.50" y="3.90" width="262.00" height="195.60" fill="none" stroke="#545454" stroke-width="1"/>
<line x1="423.00" y1="3.90" x2="684.00" y2="3.90" stroke="#c4c4c4" stroke-width="1"/>
<line x1="419.70" y1="36.20" x2="422.50" y2="36.20" stroke="#777777" stroke-width="1"/>
<text x="418.70" y="41.10" font-family="'Liberation Sans', sans-serif" font-size="12" font-style="normal" text-anchor="end" fill="#000" textLength="14.37" lengthAdjust="spacingAndGlyphs">10</text>
<line x1="419.70" y1="101.30" x2="422.50" y2="101.30" stroke="#777777" stroke-width="1"/>
<text x="418.70" y="106.20" font-family="'Liberation Sans', sans-serif" font-size="12" font-style="normal" text-anchor="end" fill="#000" textLength="7.19" lengthAdjust="spacingAndGlyphs">0</text>
<line x1="419.70" y1="166.40" x2="422.50" y2="166.40" stroke="#777777" stroke-width="1"/>
<text x="418.70" y="171.30" font-family="'Liberation Sans', sans-serif" font-size="12" font-style="normal" text-anchor="end" fill="#000" textLength="23.84" lengthAdjust="spacingAndGlyphs">−10</text>
<line x1="465.40" y1="199.50" x2="465.40" y2="202.30" stroke="#777777" stroke-width="1"/>
<text x="465.40" y="212.30" font-family="'Liberation Sans', sans-serif" font-size="12" font-style="normal" text-anchor="middle" fill="#000" textLength="17.97" lengthAdjust="spacingAndGlyphs">0.1</text>
<line x1="553.90" y1="199.50" x2="553.90" y2="202.30" stroke="#777777" stroke-width="1"/>
<text x="553.90" y="212.30" font-family="'Liberation Sans', sans-serif" font-size="12" font-style="normal" text-anchor="middle" fill="#000" textLength="32.34" lengthAdjust="spacingAndGlyphs">0.025</text>
<line x1="642.40" y1="199.50" x2="642.40" y2="202.30" stroke="#777777" stroke-width="1"/>
<text x="642.40" y="212.30" font-family="'Liberation Sans', sans-serif" font-size="12" font-style="normal" text-anchor="middle" fill="#000" textLength="39.53" lengthAdjust="spacingAndGlyphs">0.0125</text>
<text x="553.60" y="225.80" font-family="'Liberation Sans', sans-serif" font-size="12.5" font-style="italic" text-anchor="middle" fill="#000">dp</text>
<text x="0" y="0" transform="translate(386.40,100.90) rotate(-90)" font-family="'Liberation Sans', sans-serif" font-size="12.5" text-anchor="middle" textLength="44" lengthAdjust="spacingAndGlyphs">% error</text>
<text x="476.30" y="253.70" font-family="'Liberation Serif', serif" font-size="16" font-style="normal" text-anchor="start" fill="#000" textLength="107.20" lengthAdjust="spacingAndGlyphs" stroke="#000" stroke-width="0.25">(b) Error at WG1</text>
<rect x="434.42" y="273.21" width="30.97" height="89.19" fill="#0000ff" stroke="#222" stroke-width="0.9"/>
<rect x="465.40" y="362.40" width="30.97" height="13.61" fill="#f97306" stroke="#222" stroke-width="0.9"/>
<rect x="522.92" y="329.33" width="30.97" height="33.07" fill="#0000ff" stroke="#222" stroke-width="0.9"/>
<rect x="553.90" y="362.40" width="30.97" height="22.98" fill="#f97306" stroke="#222" stroke-width="0.9"/>
<rect x="611.42" y="329.33" width="30.97" height="33.07" fill="#0000ff" stroke="#222" stroke-width="0.9"/>
<rect x="642.40" y="352.37" width="30.97" height="10.03" fill="#f97306" stroke="#222" stroke-width="0.9"/>
<rect x="422.50" y="265.00" width="262.00" height="195.50" fill="none" stroke="#545454" stroke-width="1"/>
<line x1="419.70" y1="297.30" x2="422.50" y2="297.30" stroke="#777777" stroke-width="1"/>
<text x="418.70" y="302.20" font-family="'Liberation Sans', sans-serif" font-size="12" font-style="normal" text-anchor="end" fill="#000" textLength="14.37" lengthAdjust="spacingAndGlyphs">10</text>
<line x1="419.70" y1="362.40" x2="422.50" y2="362.40" stroke="#777777" stroke-width="1"/>
<text x="418.70" y="367.30" font-family="'Liberation Sans', sans-serif" font-size="12" font-style="normal" text-anchor="end" fill="#000" textLength="7.19" lengthAdjust="spacingAndGlyphs">0</text>
<line x1="419.70" y1="427.50" x2="422.50" y2="427.50" stroke="#777777" stroke-width="1"/>
<text x="418.70" y="432.40" font-family="'Liberation Sans', sans-serif" font-size="12" font-style="normal" text-anchor="end" fill="#000" textLength="23.84" lengthAdjust="spacingAndGlyphs">−10</text>
<line x1="465.40" y1="460.50" x2="465.40" y2="463.30" stroke="#777777" stroke-width="1"/>
<text x="465.40" y="473.30" font-family="'Liberation Sans', sans-serif" font-size="12" font-style="normal" text-anchor="middle" fill="#000" textLength="17.97" lengthAdjust="spacingAndGlyphs">0.1</text>
<line x1="553.90" y1="460.50" x2="553.90" y2="463.30" stroke="#777777" stroke-width="1"/>
<text x="553.90" y="473.30" font-family="'Liberation Sans', sans-serif" font-size="12" font-style="normal" text-anchor="middle" fill="#000" textLength="32.34" lengthAdjust="spacingAndGlyphs">0.025</text>
<line x1="642.40" y1="460.50" x2="642.40" y2="463.30" stroke="#777777" stroke-width="1"/>
<text x="642.40" y="473.30" font-family="'Liberation Sans', sans-serif" font-size="12" font-style="normal" text-anchor="middle" fill="#000" textLength="39.53" lengthAdjust="spacingAndGlyphs">0.0125</text>
<text x="553.60" y="487.00" font-family="'Liberation Sans', sans-serif" font-size="12.5" font-style="italic" text-anchor="middle" fill="#000">dp</text>
<text x="0" y="0" transform="translate(386.40,362.10) rotate(-90)" font-family="'Liberation Sans', sans-serif" font-size="12.5" text-anchor="middle" textLength="44" lengthAdjust="spacingAndGlyphs">% error</text>
<text x="475.90" y="515.10" font-family="'Liberation Serif', serif" font-size="16" font-style="normal" text-anchor="start" fill="#000" textLength="108.40" lengthAdjust="spacingAndGlyphs" stroke="#000" stroke-width="0.25">(d) Error at WG2</text>
<rect x="429.70" y="570.70" width="31.50" height="56.05" fill="#0000ff" stroke="#222" stroke-width="0.9"/>
<rect x="461.20" y="626.75" width="31.50" height="33.46" fill="#f97306" stroke="#222" stroke-width="0.9"/>
<rect x="519.70" y="613.82" width="31.50" height="12.93" fill="#0000ff" stroke="#222" stroke-width="0.9"/>
<rect x="551.20" y="626.75" width="31.50" height="22.66" fill="#f97306" stroke="#222" stroke-width="0.9"/>
<rect x="609.70" y="613.82" width="31.50" height="12.93" fill="#0000ff" stroke="#222" stroke-width="0.9"/>
<rect x="641.20" y="616.49" width="31.50" height="10.26" fill="#f97306" stroke="#222" stroke-width="0.9"/>
<rect x="417.50" y="527.30" width="267.00" height="199.20" fill="none" stroke="#545454" stroke-width="1"/>
<line x1="414.70" y1="560.10" x2="417.50" y2="560.10" stroke="#777777" stroke-width="1"/>
<text x="414.50" y="564.78" font-family="'Liberation Sans', sans-serif" font-size="11.4" font-style="normal" text-anchor="end" fill="#000" textLength="13.61" lengthAdjust="spacingAndGlyphs">10</text>
<line x1="414.70" y1="626.75" x2="417.50" y2="626.75" stroke="#777777" stroke-width="1"/>
<text x="414.50" y="631.43" font-family="'Liberation Sans', sans-serif" font-size="11.4" font-style="normal" text-anchor="end" fill="#000" textLength="6.81" lengthAdjust="spacingAndGlyphs">0</text>
<line x1="414.70" y1="693.40" x2="417.50" y2="693.40" stroke="#777777" stroke-width="1"/>
<text x="414.50" y="698.08" font-family="'Liberation Sans', sans-serif" font-size="11.4" font-style="normal" text-anchor="end" fill="#000" textLength="22.58" lengthAdjust="spacingAndGlyphs">−10</text>
<line x1="461.20" y1="726.50" x2="461.20" y2="729.30" stroke="#777777" stroke-width="1"/>
<text x="461.20" y="737.80" font-family="'Liberation Sans', sans-serif" font-size="11.4" font-style="normal" text-anchor="middle" fill="#000" textLength="17.01" lengthAdjust="spacingAndGlyphs">0.1</text>
<line x1="551.20" y1="726.50" x2="551.20" y2="729.30" stroke="#777777" stroke-width="1"/>
<text x="551.20" y="737.80" font-family="'Liberation Sans', sans-serif" font-size="11.4" font-style="normal" text-anchor="middle" fill="#000" textLength="30.62" lengthAdjust="spacingAndGlyphs">0.025</text>
<line x1="641.20" y1="726.50" x2="641.20" y2="729.30" stroke="#777777" stroke-width="1"/>
<text x="641.20" y="737.80" font-family="'Liberation Sans', sans-serif" font-size="11.4" font-style="normal" text-anchor="middle" fill="#000" textLength="37.43" lengthAdjust="spacingAndGlyphs">0.0125</text>
<text x="551.30" y="748.90" font-family="'Liberation Sans', sans-serif" font-size="12" font-style="italic" text-anchor="middle" fill="#000">dp</text>
<text x="0" y="0" transform="translate(385.90,626.60) rotate(-90)" font-family="'Liberation Sans', sans-serif" font-size="12" text-anchor="middle" textLength="41.5" lengthAdjust="spacingAndGlyphs">% error</text>
<text x="477.40" y="777.20" font-family="'Liberation Serif', serif" font-size="16" font-style="normal" text-anchor="start" fill="#000" textLength="105.60" lengthAdjust="spacingAndGlyphs" stroke="#000" stroke-width="0.25">(f) Error at WG3</text>
<line x1="32.1" y1="791.5" x2="96.6" y2="791.5" stroke="#008000" stroke-width="3.2" stroke-dasharray="13.4 3.55"/>
<text x="103.40" y="795.30" font-family="'Liberation Sans', sans-serif" font-size="14" font-style="normal" text-anchor="start" fill="#000" textLength="59.10" lengthAdjust="spacingAndGlyphs">dp = 0.1</text>
<line x1="174" y1="791.5" x2="237" y2="791.5" stroke="#ffa500" stroke-width="3.2" stroke-dasharray="13.4 3.55"/>
<text x="244.30" y="795.30" font-family="'Liberation Sans', sans-serif" font-size="14" font-style="normal" text-anchor="start" fill="#000" textLength="78.10" lengthAdjust="spacingAndGlyphs">dp = 0.025</text>
<line x1="331.5" y1="791.5" x2="396" y2="791.5" stroke="#ff0000" stroke-width="3.2" stroke-dasharray=""/>
<text x="401.80" y="795.30" font-family="'Liberation Sans', sans-serif" font-size="14" font-style="normal" text-anchor="start" fill="#000" textLength="87.40" lengthAdjust="spacingAndGlyphs">dp = 0.0125</text>
<line x1="498.2" y1="791.5" x2="564.5" y2="791.5" stroke="#0000ff" stroke-width="3.4" stroke-dasharray="3.4 3.3"/>
<text x="570.10" y="795.30" font-family="'Liberation Sans', sans-serif" font-size="14" font-style="normal" text-anchor="start" fill="#000" textLength="78.10" lengthAdjust="spacingAndGlyphs">Experiment</text>
<rect x="79.00" y="815.00" width="102.00" height="20.00" fill="#0000ff"/>
<text x="184.60" y="826.90" font-family="'Liberation Sans', sans-serif" font-size="14" font-style="normal" text-anchor="start" fill="#000" textLength="134.60" lengthAdjust="spacingAndGlyphs">Elevation error (%)</text>
<rect x="343.40" y="815.00" width="101.60" height="20.00" fill="#f97306"/>
<text x="450.20" y="826.90" font-family="'Liberation Sans', sans-serif" font-size="14" font-style="normal" text-anchor="start" fill="#000" textLength="151.90" lengthAdjust="spacingAndGlyphs">Arrival time error (%)</text>
</svg>
</body></html>
